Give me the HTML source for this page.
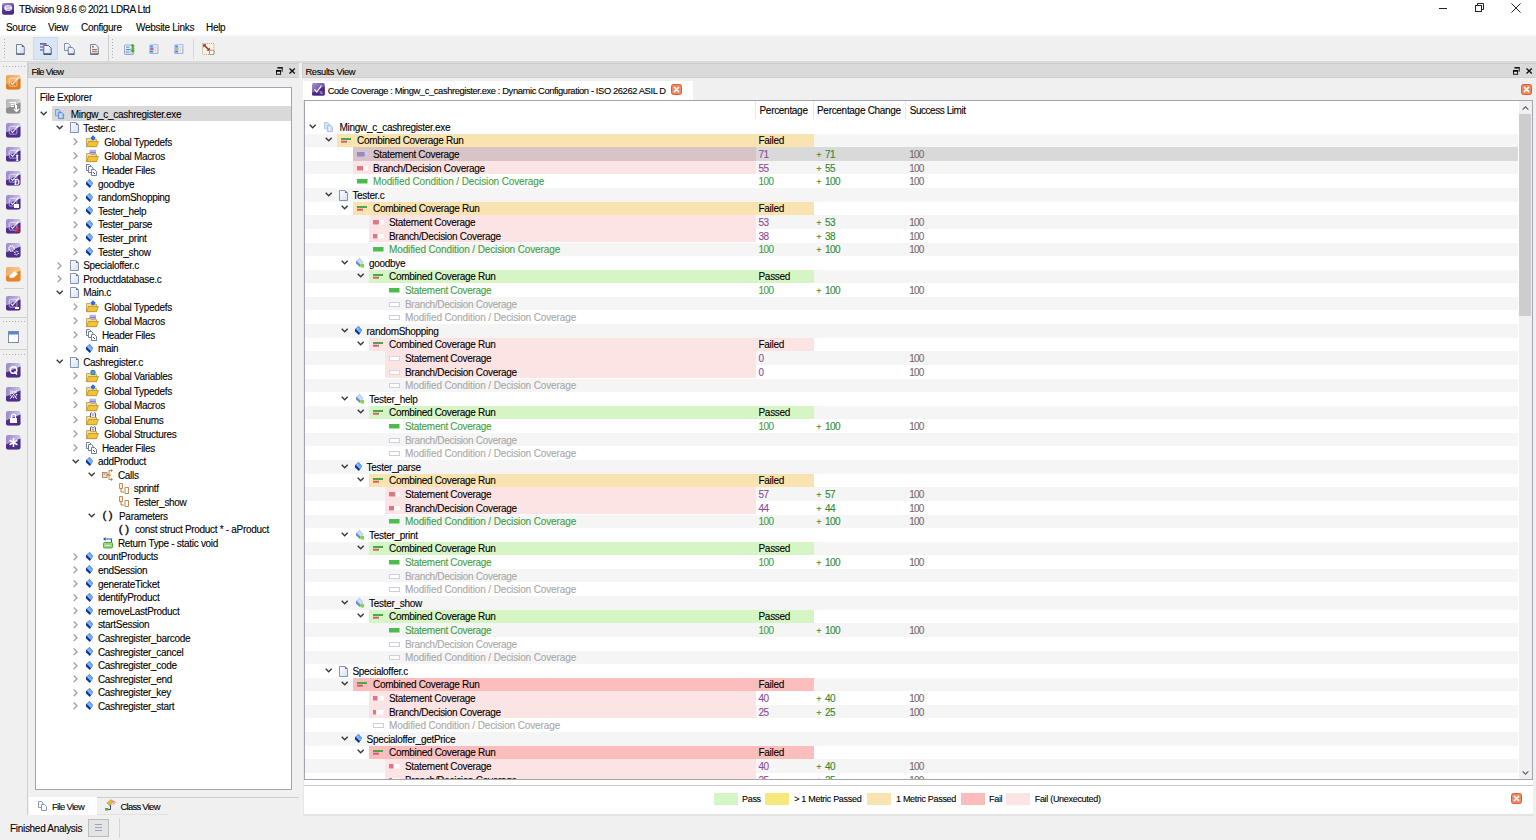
<!DOCTYPE html><html><head><meta charset='utf-8'><title>TBvision</title><style>
*{box-sizing:border-box;margin:0;padding:0}
html,body{width:1536px;height:840px;overflow:hidden;background:#f0f0f0}
body{position:relative;font-family:"Liberation Sans", "DejaVu Sans", sans-serif;font-size:10px;letter-spacing:-0.3px;color:#000;-webkit-text-stroke:0.1px currentColor}
.a{position:absolute}
.t{position:absolute;white-space:nowrap;line-height:13.6px}
svg{position:absolute;overflow:visible}
.r{position:absolute;left:0;width:100%;height:13.6px}
</style></head><body>
<div class='a' style='left:0px;top:0px;width:1536px;height:35px;background:#fff;'></div>
<svg style='left:2px;top:3px' width='12' height='12' viewBox='0 0 12 12'><defs><linearGradient id='ag' x1='0' y1='0' x2='0.3' y2='1'><stop offset='0' stop-color='#a496d0'/><stop offset='0.55' stop-color='#5a3a96'/><stop offset='1' stop-color='#4a2a88'/></linearGradient></defs><rect x='0' y='0' width='12' height='11.8' rx='2' fill='url(#ag)'/><ellipse cx='6.2' cy='5' rx='4.1' ry='2.9' fill='#ebe7f5'/><path d='M4 4.5Q6 3 8.5 4M5 6.5Q7 5.5 9 6.5' stroke='#9a8ac8' stroke-width='0.8' fill='none'/></svg>
<div class='t' style='left:19px;top:3px;letter-spacing:-0.43px'>TBvision 9.8.6 © 2021 LDRA Ltd</div>
<div class='a' style='left:1439px;top:8px;width:8px;height:1px;background:#222;'></div>
<svg style='left:1474px;top:3px' width='10' height='10' viewBox='0 0 10 10'><rect x='1.5' y='2.5' width='6' height='6' fill='none' stroke='#222'/><path d='M3.5 2.5V0.5H9.5V6.5H7.5' fill='none' stroke='#222'/></svg>
<svg style='left:1511px;top:3px' width='10' height='10' viewBox='0 0 10 10'><path d='M0.5 0.5L9.5 9.5M9.5 0.5L0.5 9.5' stroke='#222' stroke-width='1'/></svg>
<div class='t' style='left:6px;top:21px;'>Source</div>
<div class='t' style='left:48px;top:21px;'>View</div>
<div class='t' style='left:81px;top:21px;'>Configure</div>
<div class='t' style='left:136px;top:21px;'>Website Links</div>
<div class='t' style='left:206px;top:21px;'>Help</div>
<div class='a' style='left:0px;top:34.5px;width:1536px;height:2px;background:#f6f6f6;'></div>
<div class='a' style='left:0px;top:36.5px;width:1536px;height:24.6px;background:#f0f0f0;'></div>
<div class='a' style='left:0px;top:61.1px;width:1536px;height:2px;background:#dadada;'></div>
<div class='a' style='left:4px;top:39px;width:1px;height:1px;background:#acacac;'></div>
<div class='a' style='left:4px;top:42px;width:1px;height:1px;background:#acacac;'></div>
<div class='a' style='left:4px;top:45px;width:1px;height:1px;background:#acacac;'></div>
<div class='a' style='left:4px;top:48px;width:1px;height:1px;background:#acacac;'></div>
<div class='a' style='left:4px;top:51px;width:1px;height:1px;background:#acacac;'></div>
<div class='a' style='left:4px;top:54px;width:1px;height:1px;background:#acacac;'></div>
<div class='a' style='left:4px;top:57px;width:1px;height:1px;background:#acacac;'></div>
<div class='a' style='left:33px;top:37px;width:25px;height:23px;background:#d8e6f5;border:1px solid #c5daf0'></div>
<svg style='left:15.9px;top:44.2px' width='9' height='11' viewBox='0 0 9 11'><defs><linearGradient id='pgg' x1='0' y1='0' x2='1' y2='1'><stop offset='0' stop-color='#ffffff'/><stop offset='1' stop-color='#cfdcf2'/></linearGradient></defs><path d='M0.5 0.5H5.8L8.3 3V10.3H0.5Z' fill='url(#pgg)' stroke='#6a7894' stroke-width='0.9'/><path d='M5.8 0.5V3H8.3Z' fill='#4a5a80'/><path d='M0.5 10H8.3' stroke='#3a4668' stroke-width='1'/></svg>
<svg style='left:39.5px;top:43.3px' width='12' height='12' viewBox='0 0 12 12'><defs><linearGradient id='pgg' x1='0' y1='0' x2='1' y2='1'><stop offset='0' stop-color='#ffffff'/><stop offset='1' stop-color='#cfdcf2'/></linearGradient></defs><rect x='0' y='0' width='6.5' height='1.8' fill='#6a64a8'/><rect x='0' y='3.2' width='3.5' height='1.5' fill='#7a74b8'/><rect x='0' y='6.2' width='3.5' height='1.5' fill='#7a74b8'/><path d='M3.8 2.5H8.6L11.2 5.1V11.3H3.8Z' fill='url(#pgg)' stroke='#4a5470' stroke-width='0.9'/><path d='M3.8 11H11.2' stroke='#2a3450' stroke-width='1.1'/></svg>
<svg style='left:64px;top:43.2px' width='11' height='12' viewBox='0 0 11 12'><defs><linearGradient id='pgg' x1='0' y1='0' x2='1' y2='1'><stop offset='0' stop-color='#ffffff'/><stop offset='1' stop-color='#cfdcf2'/></linearGradient></defs><path d='M0.5 0.5H4.3L6.3 2.5V7.5H0.5Z' fill='url(#pgg)' stroke='#7a88a4' stroke-width='0.9'/><path d='M4.3 4.4H8.3L10.3 6.4V11.4H4.3Z' fill='url(#pgg)' stroke='#6a7894' stroke-width='0.9'/><path d='M4.3 11.1H10.3' stroke='#3a4668'/></svg>
<svg style='left:90px;top:44.2px' width='9' height='11' viewBox='0 0 9 11'><defs><linearGradient id='pgg' x1='0' y1='0' x2='1' y2='1'><stop offset='0' stop-color='#ffffff'/><stop offset='1' stop-color='#cfdcf2'/></linearGradient></defs><path d='M0.5 0.5H5.8L8.3 3V10.3H0.5Z' fill='url(#pgg)' stroke='#6a7894' stroke-width='0.9'/><rect x='2' y='1.8' width='1.8' height='1.8' fill='#b86a3a'/><rect x='2' y='5' width='4.8' height='1.2' fill='#b86a3a'/><rect x='2' y='7' width='4.8' height='1.2' fill='#c88050'/><path d='M0.5 10H8.3' stroke='#3a4668'/></svg>
<div class='a' style='left:108px;top:35px;width:1px;height:26px;background:#cdcdcd;'></div>
<div class='a' style='left:112px;top:39px;width:1px;height:1px;background:#acacac;'></div>
<div class='a' style='left:112px;top:42px;width:1px;height:1px;background:#acacac;'></div>
<div class='a' style='left:112px;top:45px;width:1px;height:1px;background:#acacac;'></div>
<div class='a' style='left:112px;top:48px;width:1px;height:1px;background:#acacac;'></div>
<div class='a' style='left:112px;top:51px;width:1px;height:1px;background:#acacac;'></div>
<div class='a' style='left:112px;top:54px;width:1px;height:1px;background:#acacac;'></div>
<div class='a' style='left:112px;top:57px;width:1px;height:1px;background:#acacac;'></div>
<svg style='left:123.9px;top:43.5px' width='11' height='11' viewBox='0 0 11 11'><defs><linearGradient id='tb1' x1='0' y1='0' x2='0' y2='1'><stop offset='0' stop-color='#fafcff'/><stop offset='1' stop-color='#c8d4ea'/></linearGradient></defs><rect x='0.5' y='1' width='9.2' height='9.5' rx='0.8' fill='url(#tb1)' stroke='#8896b8' stroke-width='0.8'/><rect x='2' y='2.6' width='3.5' height='1' fill='#4a84e0'/><rect x='2' y='5' width='4.5' height='1' fill='#4a84e0'/><rect x='2' y='7.4' width='3.5' height='1' fill='#6a9ae8'/><path d='M8.6 -0.3L10.8 2.2H9.4V4.2H7.8V2.2H6.4Z' fill='#3faa30'/><path d='M7.6 3.8H9.6V6.4H11L8.6 8.8L6.2 6.4H7.6Z' fill='#3faa30'/><rect x='6.4' y='3.8' width='4.6' height='1' fill='#7ccc60' opacity='0.7'/></svg>
<svg style='left:149.3px;top:43.9px' width='10' height='10.2' viewBox='0 0 10 10.2'><defs><linearGradient id='tbg149' x1='0' y1='0' x2='1' y2='1'><stop offset='0' stop-color='#c8d6ee'/><stop offset='1' stop-color='#8a9cc0'/></linearGradient></defs><rect x='0' y='0' width='9.4' height='10.1' rx='1.3' fill='url(#tbg149)'/><rect x='1.3' y='1' width='2.6' height='8.2' fill='#8ab8f4'/><rect x='4.4' y='1' width='4' height='8.2' fill='#eef2fa'/><path d='M4.4 3.5H8.4M4.4 6H8.4M6.4 1V9.2' stroke='#c8cfe0' stroke-width='0.6'/><rect x='1.3' y='4.3' width='3.3' height='1.2' fill='#e04040'/><rect x='1.5' y='7' width='2' height='1' fill='#4a7ad0'/><rect x='1.5' y='2' width='2' height='1' fill='#4a7ad0'/></svg>
<svg style='left:174px;top:43.9px' width='10' height='10.2' viewBox='0 0 10 10.2'><defs><linearGradient id='tbg174' x1='0' y1='0' x2='1' y2='1'><stop offset='0' stop-color='#c8d6ee'/><stop offset='1' stop-color='#8a9cc0'/></linearGradient></defs><rect x='0' y='0' width='9.4' height='10.1' rx='1.3' fill='url(#tbg174)'/><rect x='1.3' y='1' width='2.6' height='8.2' fill='#8ab8f4'/><rect x='4.4' y='1' width='4' height='8.2' fill='#eef2fa'/><path d='M4.4 3.5H8.4M4.4 6H8.4M6.4 1V9.2' stroke='#c8cfe0' stroke-width='0.6'/><rect x='1.3' y='4.3' width='3.3' height='1.2' fill='#f0b828'/><rect x='1.5' y='7' width='2' height='1' fill='#4a7ad0'/><rect x='1.5' y='2' width='2' height='1' fill='#4a7ad0'/></svg>
<div class='a' style='left:193px;top:39px;width:1px;height:20px;background:#d8d8d8;'></div>
<svg style='left:201.7px;top:42.9px' width='12.5' height='12' viewBox='0 0 12.5 12'><rect x='0.5' y='0.5' width='11.5' height='11' fill='#f4f2e2' stroke='#b8b088' stroke-dasharray='1.2 0.9'/><path d='M2 2L6.8 6.8' stroke='#a82838' stroke-width='1.5'/><path d='M1.2 1.2H4.4L1.2 4.4Z' fill='#a82838'/><path d='M7.8 7.8H4.6L7.8 4.6Z' fill='#a82838'/><rect x='7.5' y='7.3' width='4.5' height='4.2' rx='1' fill='#fff' stroke='#a8a078' stroke-width='1.1'/></svg>
<div class='a' style='left:0px;top:62px;width:28px;height:753px;background:#f0f0f0;border-right:1px solid #d0d0d0'></div>
<div class='a' style='left:3px;top:66px;width:1px;height:1px;background:#acacac;'></div>
<div class='a' style='left:6px;top:66px;width:1px;height:1px;background:#acacac;'></div>
<div class='a' style='left:9px;top:66px;width:1px;height:1px;background:#acacac;'></div>
<div class='a' style='left:12px;top:66px;width:1px;height:1px;background:#acacac;'></div>
<div class='a' style='left:15px;top:66px;width:1px;height:1px;background:#acacac;'></div>
<div class='a' style='left:18px;top:66px;width:1px;height:1px;background:#acacac;'></div>
<div class='a' style='left:21px;top:66px;width:1px;height:1px;background:#acacac;'></div>
<div class='a' style='left:24px;top:66px;width:1px;height:1px;background:#acacac;'></div>
<svg style='left:6.4px;top:75px' width='15' height='15' viewBox='0 0 15 15'><defs><linearGradient id='tg1' x1='0' y1='0' x2='1' y2='0.3'><stop offset='0' stop-color='#f0a050'/><stop offset='1' stop-color='#f6c890'/></linearGradient></defs><rect x='0' y='0' width='14.5' height='14.5' rx='2' fill='url(#tg1)'/><path d='M0 9.5L14.5 3.5V12.5a2 2 0 0 1-2 2H2a2 2 0 0 1-2-2Z' fill='#dc7f22'/><rect x='3.3' y='3.4' width='7.6' height='7.8' rx='1.5' fill='none' stroke='#fff' stroke-opacity='0.45' stroke-width='1.3'/><path d='M4.8 7.6L6.6 9.4L12.6 2.4' fill='none' stroke='#fff' stroke-opacity='0.85' stroke-width='1.2'/></svg>
<svg style='left:6.4px;top:99px' width='15' height='15' viewBox='0 0 15 15'><defs><linearGradient id='tg2' x1='0' y1='0' x2='1' y2='0.3'><stop offset='0' stop-color='#b4b4b4'/><stop offset='1' stop-color='#d4d4d4'/></linearGradient></defs><rect x='0' y='0' width='14.5' height='14.5' rx='2' fill='url(#tg2)'/><path d='M0 9.5L14.5 3.5V12.5a2 2 0 0 1-2 2H2a2 2 0 0 1-2-2Z' fill='#8e8e8e'/><path d='M3.5 3.5H9.5V9.5' fill='none' stroke='#fff'/><path d='M5 5.5h3M5 7.5h3' stroke='#fff'/><path d='M10.5 6V12M8 10L10.5 12.5L13 10' fill='none' stroke='#fff' stroke-width='1.2'/></svg>
<svg style='left:6.4px;top:123px' width='15' height='15' viewBox='0 0 15 15'><defs><linearGradient id='tg3' x1='0' y1='0' x2='1' y2='0.3'><stop offset='0' stop-color='#9684c6'/><stop offset='1' stop-color='#d0c8e6'/></linearGradient></defs><rect x='0' y='0' width='14.5' height='14.5' rx='2' fill='url(#tg3)'/><path d='M0 9.5L14.5 3.5V12.5a2 2 0 0 1-2 2H2a2 2 0 0 1-2-2Z' fill='#4d2c8c'/><rect x='3.3' y='3.4' width='7.6' height='7.8' rx='1.5' fill='none' stroke='#fff' stroke-opacity='0.45' stroke-width='1.3'/><path d='M4.8 7.6L6.6 9.4L12.6 2.4' fill='none' stroke='#fff' stroke-opacity='0.85' stroke-width='1.2'/></svg>
<svg style='left:6.4px;top:147px' width='15' height='15' viewBox='0 0 15 15'><defs><linearGradient id='tg4' x1='0' y1='0' x2='1' y2='0.3'><stop offset='0' stop-color='#9684c6'/><stop offset='1' stop-color='#d0c8e6'/></linearGradient></defs><rect x='0' y='0' width='14.5' height='14.5' rx='2' fill='url(#tg4)'/><path d='M0 9.5L14.5 3.5V12.5a2 2 0 0 1-2 2H2a2 2 0 0 1-2-2Z' fill='#4d2c8c'/><rect x='3.3' y='3.4' width='7.6' height='7.8' rx='1.5' fill='none' stroke='#fff' stroke-opacity='0.45' stroke-width='1.3'/><path d='M4.8 7.6L6.6 9.4L12.6 2.4' fill='none' stroke='#fff' stroke-opacity='0.85' stroke-width='1.2'/><text x='9.6' y='14.2' font-size='8.5' font-weight='bold' fill='#fff' stroke='none' font-family='Liberation Serif'>I</text></svg>
<svg style='left:6.4px;top:171px' width='15' height='15' viewBox='0 0 15 15'><defs><linearGradient id='tg5' x1='0' y1='0' x2='1' y2='0.3'><stop offset='0' stop-color='#9684c6'/><stop offset='1' stop-color='#d0c8e6'/></linearGradient></defs><rect x='0' y='0' width='14.5' height='14.5' rx='2' fill='url(#tg5)'/><path d='M0 9.5L14.5 3.5V12.5a2 2 0 0 1-2 2H2a2 2 0 0 1-2-2Z' fill='#4d2c8c'/><rect x='3.3' y='3.4' width='7.6' height='7.8' rx='1.5' fill='none' stroke='#fff' stroke-opacity='0.45' stroke-width='1.3'/><path d='M4.8 7.6L6.6 9.4L12.6 2.4' fill='none' stroke='#fff' stroke-opacity='0.85' stroke-width='1.2'/><text x='8' y='14.2' font-size='8' font-weight='bold' fill='#fff' font-family='Liberation Serif'>D</text></svg>
<svg style='left:6.4px;top:195px' width='15' height='15' viewBox='0 0 15 15'><defs><linearGradient id='tg6' x1='0' y1='0' x2='1' y2='0.3'><stop offset='0' stop-color='#9684c6'/><stop offset='1' stop-color='#d0c8e6'/></linearGradient></defs><rect x='0' y='0' width='14.5' height='14.5' rx='2' fill='url(#tg6)'/><path d='M0 9.5L14.5 3.5V12.5a2 2 0 0 1-2 2H2a2 2 0 0 1-2-2Z' fill='#4d2c8c'/><rect x='3.3' y='3.4' width='7.6' height='7.8' rx='1.5' fill='none' stroke='#fff' stroke-opacity='0.45' stroke-width='1.3'/><path d='M4.8 7.6L6.6 9.4L12.6 2.4' fill='none' stroke='#fff' stroke-opacity='0.85' stroke-width='1.2'/><rect x='8' y='9' width='5' height='4' fill='#fff'/></svg>
<svg style='left:6.4px;top:219px' width='15' height='15' viewBox='0 0 15 15'><defs><linearGradient id='tg7' x1='0' y1='0' x2='1' y2='0.3'><stop offset='0' stop-color='#9684c6'/><stop offset='1' stop-color='#d0c8e6'/></linearGradient></defs><rect x='0' y='0' width='14.5' height='14.5' rx='2' fill='url(#tg7)'/><path d='M0 9.5L14.5 3.5V12.5a2 2 0 0 1-2 2H2a2 2 0 0 1-2-2Z' fill='#4d2c8c'/><rect x='3.3' y='3.4' width='7.6' height='7.8' rx='1.5' fill='none' stroke='#fff' stroke-opacity='0.45' stroke-width='1.3'/><path d='M4.8 7.6L6.6 9.4L12.6 2.4' fill='none' stroke='#fff' stroke-opacity='0.85' stroke-width='1.2'/><path d='M9 9L13 13M13 9L9 13' stroke='#e03030' stroke-width='1.3'/></svg>
<svg style='left:6.4px;top:243px' width='15' height='15' viewBox='0 0 15 15'><defs><linearGradient id='tg8' x1='0' y1='0' x2='1' y2='0.3'><stop offset='0' stop-color='#9684c6'/><stop offset='1' stop-color='#d0c8e6'/></linearGradient></defs><rect x='0' y='0' width='14.5' height='14.5' rx='2' fill='url(#tg8)'/><path d='M0 9.5L14.5 3.5V12.5a2 2 0 0 1-2 2H2a2 2 0 0 1-2-2Z' fill='#4d2c8c'/><circle cx='5.5' cy='5.5' r='2.6' fill='none' stroke='#fff' stroke-width='1.6' stroke-dasharray='1.2 0.8'/><circle cx='10.5' cy='10' r='1.8' fill='none' stroke='#fff' stroke-width='1.2' stroke-dasharray='1 0.7'/></svg>
<svg style='left:6.4px;top:267px' width='15' height='15' viewBox='0 0 15 15'><defs><linearGradient id='tg9' x1='0' y1='0' x2='1' y2='0.3'><stop offset='0' stop-color='#f4a860'/><stop offset='1' stop-color='#f8cc98'/></linearGradient></defs><rect x='0' y='0' width='14.5' height='14.5' rx='2' fill='url(#tg9)'/><path d='M0 9.5L14.5 3.5V12.5a2 2 0 0 1-2 2H2a2 2 0 0 1-2-2Z' fill='#e8842c'/><path d='M3 9L9 4L12 7L7 11H4Z' fill='#fff'/></svg>
<div class='a' style='left:4px;top:288px;width:20px;height:1px;background:#d0d0d0;'></div>
<svg style='left:6.4px;top:296px' width='15' height='15' viewBox='0 0 15 15'><defs><linearGradient id='tg10' x1='0' y1='0' x2='1' y2='0.3'><stop offset='0' stop-color='#9684c6'/><stop offset='1' stop-color='#d0c8e6'/></linearGradient></defs><rect x='0' y='0' width='14.5' height='14.5' rx='2' fill='url(#tg10)'/><path d='M0 9.5L14.5 3.5V12.5a2 2 0 0 1-2 2H2a2 2 0 0 1-2-2Z' fill='#4d2c8c'/><rect x='3.3' y='3.4' width='7.6' height='7.8' rx='1.5' fill='none' stroke='#fff' stroke-opacity='0.45' stroke-width='1.3'/><path d='M4.8 7.6L6.6 9.4L12.6 2.4' fill='none' stroke='#fff' stroke-opacity='0.85' stroke-width='1.2'/><rect x='9' y='11' width='4' height='2' fill='#fff'/></svg>
<div class='a' style='left:0px;top:317px;width:27px;height:1px;background:#d0d0d0;'></div>
<div class='a' style='left:3px;top:321px;width:1px;height:1px;background:#acacac;'></div>
<div class='a' style='left:6px;top:321px;width:1px;height:1px;background:#acacac;'></div>
<div class='a' style='left:9px;top:321px;width:1px;height:1px;background:#acacac;'></div>
<div class='a' style='left:12px;top:321px;width:1px;height:1px;background:#acacac;'></div>
<div class='a' style='left:15px;top:321px;width:1px;height:1px;background:#acacac;'></div>
<div class='a' style='left:18px;top:321px;width:1px;height:1px;background:#acacac;'></div>
<div class='a' style='left:21px;top:321px;width:1px;height:1px;background:#acacac;'></div>
<div class='a' style='left:24px;top:321px;width:1px;height:1px;background:#acacac;'></div>
<svg style='left:8px;top:331px' width='11' height='12' viewBox='0 0 11 12'><rect x='0.5' y='0.5' width='10' height='11' fill='#fff' stroke='#7a8aa8'/><rect x='1' y='1' width='9' height='2.5' fill='#4a8ae0'/></svg>
<div class='a' style='left:0px;top:349px;width:27px;height:1px;background:#d0d0d0;'></div>
<div class='a' style='left:3px;top:354px;width:1px;height:1px;background:#acacac;'></div>
<div class='a' style='left:6px;top:354px;width:1px;height:1px;background:#acacac;'></div>
<div class='a' style='left:9px;top:354px;width:1px;height:1px;background:#acacac;'></div>
<div class='a' style='left:12px;top:354px;width:1px;height:1px;background:#acacac;'></div>
<div class='a' style='left:15px;top:354px;width:1px;height:1px;background:#acacac;'></div>
<div class='a' style='left:18px;top:354px;width:1px;height:1px;background:#acacac;'></div>
<div class='a' style='left:21px;top:354px;width:1px;height:1px;background:#acacac;'></div>
<div class='a' style='left:24px;top:354px;width:1px;height:1px;background:#acacac;'></div>
<svg style='left:6.4px;top:363px' width='15' height='15' viewBox='0 0 15 15'><defs><linearGradient id='tg11' x1='0' y1='0' x2='1' y2='0.3'><stop offset='0' stop-color='#9684c6'/><stop offset='1' stop-color='#d0c8e6'/></linearGradient></defs><rect x='0' y='0' width='14.5' height='14.5' rx='2' fill='url(#tg11)'/><path d='M0 9.5L14.5 3.5V12.5a2 2 0 0 1-2 2H2a2 2 0 0 1-2-2Z' fill='#4d2c8c'/><circle cx='7.5' cy='7' r='3.3' fill='none' stroke='#fff' stroke-width='1.6'/><path d='M8.5 8.5L11 11.5' stroke='#fff' stroke-width='1.6'/></svg>
<svg style='left:6.4px;top:387px' width='15' height='15' viewBox='0 0 15 15'><defs><linearGradient id='tg12' x1='0' y1='0' x2='1' y2='0.3'><stop offset='0' stop-color='#9684c6'/><stop offset='1' stop-color='#d0c8e6'/></linearGradient></defs><rect x='0' y='0' width='14.5' height='14.5' rx='2' fill='url(#tg12)'/><path d='M0 9.5L14.5 3.5V12.5a2 2 0 0 1-2 2H2a2 2 0 0 1-2-2Z' fill='#4d2c8c'/><circle cx='7.5' cy='7.5' r='3' fill='none' stroke='#fff' stroke-width='1.5' stroke-dasharray='1 1'/><path d='M4 3L11 12M11 3L4 12' stroke='#fff' stroke-width='0.8'/></svg>
<svg style='left:6.4px;top:411px' width='15' height='15' viewBox='0 0 15 15'><defs><linearGradient id='tg13' x1='0' y1='0' x2='1' y2='0.3'><stop offset='0' stop-color='#9684c6'/><stop offset='1' stop-color='#d0c8e6'/></linearGradient></defs><rect x='0' y='0' width='14.5' height='14.5' rx='2' fill='url(#tg13)'/><path d='M0 9.5L14.5 3.5V12.5a2 2 0 0 1-2 2H2a2 2 0 0 1-2-2Z' fill='#4d2c8c'/><rect x='4' y='7' width='7' height='5' fill='#fff'/><path d='M5.5 7V5a2 2 0 0 1 4 0V7' fill='none' stroke='#fff' stroke-width='1.2'/></svg>
<svg style='left:6.4px;top:435px' width='15' height='15' viewBox='0 0 15 15'><defs><linearGradient id='tg14' x1='0' y1='0' x2='1' y2='0.3'><stop offset='0' stop-color='#9684c6'/><stop offset='1' stop-color='#d0c8e6'/></linearGradient></defs><rect x='0' y='0' width='14.5' height='14.5' rx='2' fill='url(#tg14)'/><path d='M0 9.5L14.5 3.5V12.5a2 2 0 0 1-2 2H2a2 2 0 0 1-2-2Z' fill='#4d2c8c'/><path d='M7.5 3V12M3.6 5.25L11.4 9.75M11.4 5.25L3.6 9.75' stroke='#fff' stroke-width='1.5'/></svg>
<div class='t' style='left:10px;top:822px;'>Finished Analysis</div>
<div class='a' style='left:88px;top:819px;width:21px;height:18px;background:#e4e4e4;border:1px solid #bdbdbd'></div>
<svg style='left:95px;top:824px' width='7' height='7' viewBox='0 0 7 7'><path d='M0 0.5H7M0 3.5H7M0 6.5H7' stroke='#9aa3c0'/></svg>
<div class='a' style='left:119px;top:818px;width:1px;height:20px;background:#d6d6d6;'></div>
<div class='a' style='left:28px;top:63px;width:271px;height:15px;background:#dadada;border-top:1px solid #cdcdcd;border-left:1px solid #cdcdcd;border-bottom:1px solid #cfcfcf'></div>
<div class='t' style='left:31.4px;top:65.2px;font-size:9.4px;letter-spacing:-0.65px;-webkit-text-stroke:0.1px currentColor'>File View</div>
<svg style='left:276px;top:67px' width='8' height='8' viewBox='0 0 8 8'><rect x='1.4' y='0' width='5.3' height='1.6' fill='#151515'/><rect x='5.7' y='0' width='1.1' height='4.7' fill='#303030'/><rect x='0.5' y='3.6' width='4.1' height='3.8' fill='#e6e6e6' stroke='#151515' stroke-width='1'/><rect x='0' y='3.1' width='5.1' height='1.6' fill='#000'/><rect x='0.5' y='6.6' width='4.1' height='0.8' fill='#777'/></svg>
<svg style='left:288.8px;top:67.9px' width='7' height='7' viewBox='0 0 7 7'><path d='M0.5 0.5L5.8 5.6M5.8 0.5L0.5 5.6' stroke='#111' stroke-width='1.35'/></svg>
<div class='a' style='left:302px;top:63px;width:1234px;height:15px;background:#dadada;border-top:1px solid #cdcdcd;border-left:1px solid #cdcdcd;border-bottom:1px solid #cfcfcf'></div>
<div class='t' style='left:305.4px;top:65.2px;font-size:9.4px;letter-spacing:-0.35px;-webkit-text-stroke:0.1px currentColor'>Results View</div>
<svg style='left:1513px;top:67px' width='8' height='8' viewBox='0 0 8 8'><rect x='1.4' y='0' width='5.3' height='1.6' fill='#151515'/><rect x='5.7' y='0' width='1.1' height='4.7' fill='#303030'/><rect x='0.5' y='3.6' width='4.1' height='3.8' fill='#e6e6e6' stroke='#151515' stroke-width='1'/><rect x='0' y='3.1' width='5.1' height='1.6' fill='#000'/><rect x='0.5' y='6.6' width='4.1' height='0.8' fill='#777'/></svg>
<svg style='left:1525.8px;top:67.9px' width='7' height='7' viewBox='0 0 7 7'><path d='M0.5 0.5L5.8 5.6M5.8 0.5L0.5 5.6' stroke='#111' stroke-width='1.35'/></svg>
<div class='a' style='left:35px;top:87px;width:257px;height:702.6px;background:#fff;border:1px solid #a2a5ad'></div>
<div class='t' style='left:39.7px;top:90.9px;'>File Explorer</div>
<div class='a' style='left:52px;top:106.4px;width:239px;height:14.2px;background:#d9d9d9;'></div>
<svg style='left:40px;top:111.39999999999999px' width='8' height='5' viewBox='0 0 8 5'><path d='M0.7 0.7L3.7 3.7L6.7 0.7' fill='none' stroke='#3a3a3a' stroke-width='1.45'/></svg>
<svg style='left:55.4px;top:109.0px' width='9' height='10' viewBox='0 0 9 10'><path d='M0.5 0.5H3.6L5.2 2.1V6.8H0.5Z' fill='#b4d0f4' stroke='#6a98dc' stroke-width='0.9'/><path d='M3.6 3.4H6.8L8.6 5.2V9.6H3.6Z' fill='#a4c4f0' stroke='#5a88d4' stroke-width='0.9'/><path d='M4.6 4.6H6.4V8.6H4.6Z' fill='#d8e8fc'/></svg>
<div class='t' style='left:70.7px;top:108.0px;'>Mingw_c_cashregister.exe</div>
<svg style='left:56px;top:124.99999999999999px' width='8' height='5' viewBox='0 0 8 5'><path d='M0.7 0.7L3.7 3.7L6.7 0.7' fill='none' stroke='#3a3a3a' stroke-width='1.45'/></svg>
<svg style='left:70px;top:122.1px' width='9' height='11' viewBox='0 0 9 11'><defs><linearGradient id='fgr' x1='0' y1='0' x2='1' y2='1'><stop offset='0' stop-color='#ffffff'/><stop offset='1' stop-color='#d4e0f4'/></linearGradient></defs><path d='M0.5 0.5H6L8.5 3V10.5H0.5Z' fill='url(#fgr)' stroke='#7888a8' stroke-width='0.9'/><path d='M6 0.5V3H8.5Z' fill='#5a6a98'/></svg>
<div class='t' style='left:83.2px;top:121.6px;'>Tester.c</div>
<svg style='left:73.4px;top:137.99999999999997px' width='5' height='8' viewBox='0 0 5 8'><path d='M0.7 0.5L4 3.8L0.7 7.1' fill='none' stroke='#a2a2a2' stroke-width='1.35'/></svg>
<svg style='left:86.2px;top:137.39999999999998px' width='13' height='11' viewBox='0 0 13 11'><path d='M0.5 1.5H4L5 2.5H10.5V9.5H0.5Z' fill='#f6dc8a' stroke='#b89a50' stroke-width='0.8'/><path d='M7 -1.7L9.7 1L7 3.7L4.3 1Z' fill='#2a6af0'/><path d='M2.5 4.5H12.5L10.5 9.7H0.5Z' fill='#f5c232' stroke='#a78a3a' stroke-width='0.7'/></svg>
<div class='t' style='left:104.3px;top:136.0px;'>Global Typedefs</div>
<svg style='left:73.4px;top:152.39999999999998px' width='5' height='8' viewBox='0 0 5 8'><path d='M0.7 0.5L4 3.8L0.7 7.1' fill='none' stroke='#a2a2a2' stroke-width='1.35'/></svg>
<svg style='left:86.2px;top:151.79999999999998px' width='13' height='11' viewBox='0 0 13 11'><path d='M0.5 1.5H4L5 2.5H10.5V9.5H0.5Z' fill='#f6dc8a' stroke='#b89a50' stroke-width='0.8'/><rect x='3.5' y='-2.2' width='6.5' height='1' fill='#a0a8c0'/><rect x='3.5' y='-0.6' width='6.5' height='2.2' fill='#8c7ad8'/><path d='M2.5 4.5H12.5L10.5 9.7H0.5Z' fill='#f5c232' stroke='#a78a3a' stroke-width='0.7'/></svg>
<div class='t' style='left:104.3px;top:150.4px;'>Global Macros</div>
<svg style='left:73.4px;top:166.4px' width='5' height='8' viewBox='0 0 5 8'><path d='M0.7 0.5L4 3.8L0.7 7.1' fill='none' stroke='#a2a2a2' stroke-width='1.35'/></svg>
<svg style='left:86.2px;top:164.0px' width='11' height='12' viewBox='0 0 11 12'><path d='M0.5 0.5H3.5L5 2V6.5H0.5Z' fill='#fff' stroke='#6f7f99'/><path d='M2.5 2.5H5.5L7 4V8.5H2.5Z' fill='#fff' stroke='#6f7f99'/><path d='M5.5 5.5H8.5L10.5 7.5V11.5H5.5Z' fill='#fff' stroke='#6f7f99'/><path d='M7 8L9 10' stroke='#3a4a6a'/></svg>
<div class='t' style='left:101.9px;top:164.0px;'>Header Files</div>
<svg style='left:73.4px;top:180.0px' width='5' height='8' viewBox='0 0 5 8'><path d='M0.7 0.5L4 3.8L0.7 7.1' fill='none' stroke='#a2a2a2' stroke-width='1.35'/></svg>
<svg style='left:86px;top:179.0px' width='9' height='10' viewBox='0 0 9 10'><path d='M0 3.3L3.6 0L7 4.2L3.9 9L0 5.5Z' fill='#0636a6'/><path d='M0.7 3.1L3.6 0.3L7 4.2L4.9 6.9Z' fill='#86bcf2'/><path d='M3.6 0.3L7 4.2L5.8 5.6L2.6 1.9Z' fill='#5e9ae6' opacity='0.6'/></svg>
<div class='t' style='left:97.9px;top:177.6px;'>goodbye</div>
<svg style='left:73.4px;top:193.6px' width='5' height='8' viewBox='0 0 5 8'><path d='M0.7 0.5L4 3.8L0.7 7.1' fill='none' stroke='#a2a2a2' stroke-width='1.35'/></svg>
<svg style='left:86px;top:192.6px' width='9' height='10' viewBox='0 0 9 10'><path d='M0 3.3L3.6 0L7 4.2L3.9 9L0 5.5Z' fill='#0636a6'/><path d='M0.7 3.1L3.6 0.3L7 4.2L4.9 6.9Z' fill='#86bcf2'/><path d='M3.6 0.3L7 4.2L5.8 5.6L2.6 1.9Z' fill='#5e9ae6' opacity='0.6'/></svg>
<div class='t' style='left:97.9px;top:191.2px;'>randomShopping</div>
<svg style='left:73.4px;top:207.2px' width='5' height='8' viewBox='0 0 5 8'><path d='M0.7 0.5L4 3.8L0.7 7.1' fill='none' stroke='#a2a2a2' stroke-width='1.35'/></svg>
<svg style='left:86px;top:206.2px' width='9' height='10' viewBox='0 0 9 10'><path d='M0 3.3L3.6 0L7 4.2L3.9 9L0 5.5Z' fill='#0636a6'/><path d='M0.7 3.1L3.6 0.3L7 4.2L4.9 6.9Z' fill='#86bcf2'/><path d='M3.6 0.3L7 4.2L5.8 5.6L2.6 1.9Z' fill='#5e9ae6' opacity='0.6'/></svg>
<div class='t' style='left:97.9px;top:204.79999999999998px;'>Tester_help</div>
<svg style='left:73.4px;top:220.79999999999998px' width='5' height='8' viewBox='0 0 5 8'><path d='M0.7 0.5L4 3.8L0.7 7.1' fill='none' stroke='#a2a2a2' stroke-width='1.35'/></svg>
<svg style='left:86px;top:219.79999999999998px' width='9' height='10' viewBox='0 0 9 10'><path d='M0 3.3L3.6 0L7 4.2L3.9 9L0 5.5Z' fill='#0636a6'/><path d='M0.7 3.1L3.6 0.3L7 4.2L4.9 6.9Z' fill='#86bcf2'/><path d='M3.6 0.3L7 4.2L5.8 5.6L2.6 1.9Z' fill='#5e9ae6' opacity='0.6'/></svg>
<div class='t' style='left:97.9px;top:218.39999999999998px;'>Tester_parse</div>
<svg style='left:73.4px;top:234.39999999999998px' width='5' height='8' viewBox='0 0 5 8'><path d='M0.7 0.5L4 3.8L0.7 7.1' fill='none' stroke='#a2a2a2' stroke-width='1.35'/></svg>
<svg style='left:86px;top:233.39999999999998px' width='9' height='10' viewBox='0 0 9 10'><path d='M0 3.3L3.6 0L7 4.2L3.9 9L0 5.5Z' fill='#0636a6'/><path d='M0.7 3.1L3.6 0.3L7 4.2L4.9 6.9Z' fill='#86bcf2'/><path d='M3.6 0.3L7 4.2L5.8 5.6L2.6 1.9Z' fill='#5e9ae6' opacity='0.6'/></svg>
<div class='t' style='left:97.9px;top:231.99999999999997px;'>Tester_print</div>
<svg style='left:73.4px;top:247.99999999999997px' width='5' height='8' viewBox='0 0 5 8'><path d='M0.7 0.5L4 3.8L0.7 7.1' fill='none' stroke='#a2a2a2' stroke-width='1.35'/></svg>
<svg style='left:86px;top:246.99999999999997px' width='9' height='10' viewBox='0 0 9 10'><path d='M0 3.3L3.6 0L7 4.2L3.9 9L0 5.5Z' fill='#0636a6'/><path d='M0.7 3.1L3.6 0.3L7 4.2L4.9 6.9Z' fill='#86bcf2'/><path d='M3.6 0.3L7 4.2L5.8 5.6L2.6 1.9Z' fill='#5e9ae6' opacity='0.6'/></svg>
<div class='t' style='left:97.9px;top:245.59999999999997px;'>Tester_show</div>
<svg style='left:57.4px;top:261.6px' width='5' height='8' viewBox='0 0 5 8'><path d='M0.7 0.5L4 3.8L0.7 7.1' fill='none' stroke='#a2a2a2' stroke-width='1.35'/></svg>
<svg style='left:70px;top:259.7px' width='9' height='11' viewBox='0 0 9 11'><defs><linearGradient id='fgr' x1='0' y1='0' x2='1' y2='1'><stop offset='0' stop-color='#ffffff'/><stop offset='1' stop-color='#d4e0f4'/></linearGradient></defs><path d='M0.5 0.5H6L8.5 3V10.5H0.5Z' fill='url(#fgr)' stroke='#7888a8' stroke-width='0.9'/><path d='M6 0.5V3H8.5Z' fill='#5a6a98'/></svg>
<div class='t' style='left:83.2px;top:259.2px;'>Specialoffer.c</div>
<svg style='left:57.4px;top:275.20000000000005px' width='5' height='8' viewBox='0 0 5 8'><path d='M0.7 0.5L4 3.8L0.7 7.1' fill='none' stroke='#a2a2a2' stroke-width='1.35'/></svg>
<svg style='left:70px;top:273.3px' width='9' height='11' viewBox='0 0 9 11'><defs><linearGradient id='fgr' x1='0' y1='0' x2='1' y2='1'><stop offset='0' stop-color='#ffffff'/><stop offset='1' stop-color='#d4e0f4'/></linearGradient></defs><path d='M0.5 0.5H6L8.5 3V10.5H0.5Z' fill='url(#fgr)' stroke='#7888a8' stroke-width='0.9'/><path d='M6 0.5V3H8.5Z' fill='#5a6a98'/></svg>
<div class='t' style='left:83.2px;top:272.8px;'>Productdatabase.c</div>
<svg style='left:56px;top:289.80000000000007px' width='8' height='5' viewBox='0 0 8 5'><path d='M0.7 0.7L3.7 3.7L6.7 0.7' fill='none' stroke='#3a3a3a' stroke-width='1.45'/></svg>
<svg style='left:70px;top:286.90000000000003px' width='9' height='11' viewBox='0 0 9 11'><defs><linearGradient id='fgr' x1='0' y1='0' x2='1' y2='1'><stop offset='0' stop-color='#ffffff'/><stop offset='1' stop-color='#d4e0f4'/></linearGradient></defs><path d='M0.5 0.5H6L8.5 3V10.5H0.5Z' fill='url(#fgr)' stroke='#7888a8' stroke-width='0.9'/><path d='M6 0.5V3H8.5Z' fill='#5a6a98'/></svg>
<div class='t' style='left:83.2px;top:286.40000000000003px;'>Main.c</div>
<svg style='left:73.4px;top:302.80000000000007px' width='5' height='8' viewBox='0 0 5 8'><path d='M0.7 0.5L4 3.8L0.7 7.1' fill='none' stroke='#a2a2a2' stroke-width='1.35'/></svg>
<svg style='left:86.2px;top:302.20000000000005px' width='13' height='11' viewBox='0 0 13 11'><path d='M0.5 1.5H4L5 2.5H10.5V9.5H0.5Z' fill='#f6dc8a' stroke='#b89a50' stroke-width='0.8'/><path d='M7 -1.7L9.7 1L7 3.7L4.3 1Z' fill='#2a6af0'/><path d='M2.5 4.5H12.5L10.5 9.7H0.5Z' fill='#f5c232' stroke='#a78a3a' stroke-width='0.7'/></svg>
<div class='t' style='left:104.3px;top:300.80000000000007px;'>Global Typedefs</div>
<svg style='left:73.4px;top:317.20000000000005px' width='5' height='8' viewBox='0 0 5 8'><path d='M0.7 0.5L4 3.8L0.7 7.1' fill='none' stroke='#a2a2a2' stroke-width='1.35'/></svg>
<svg style='left:86.2px;top:316.6px' width='13' height='11' viewBox='0 0 13 11'><path d='M0.5 1.5H4L5 2.5H10.5V9.5H0.5Z' fill='#f6dc8a' stroke='#b89a50' stroke-width='0.8'/><rect x='3.5' y='-2.2' width='6.5' height='1' fill='#a0a8c0'/><rect x='3.5' y='-0.6' width='6.5' height='2.2' fill='#8c7ad8'/><path d='M2.5 4.5H12.5L10.5 9.7H0.5Z' fill='#f5c232' stroke='#a78a3a' stroke-width='0.7'/></svg>
<div class='t' style='left:104.3px;top:315.20000000000005px;'>Global Macros</div>
<svg style='left:73.4px;top:331.20000000000005px' width='5' height='8' viewBox='0 0 5 8'><path d='M0.7 0.5L4 3.8L0.7 7.1' fill='none' stroke='#a2a2a2' stroke-width='1.35'/></svg>
<svg style='left:86.2px;top:328.8px' width='11' height='12' viewBox='0 0 11 12'><path d='M0.5 0.5H3.5L5 2V6.5H0.5Z' fill='#fff' stroke='#6f7f99'/><path d='M2.5 2.5H5.5L7 4V8.5H2.5Z' fill='#fff' stroke='#6f7f99'/><path d='M5.5 5.5H8.5L10.5 7.5V11.5H5.5Z' fill='#fff' stroke='#6f7f99'/><path d='M7 8L9 10' stroke='#3a4a6a'/></svg>
<div class='t' style='left:101.9px;top:328.8px;'>Header Files</div>
<svg style='left:73.4px;top:344.80000000000007px' width='5' height='8' viewBox='0 0 5 8'><path d='M0.7 0.5L4 3.8L0.7 7.1' fill='none' stroke='#a2a2a2' stroke-width='1.35'/></svg>
<svg style='left:86px;top:343.8px' width='9' height='10' viewBox='0 0 9 10'><path d='M0 3.3L3.6 0L7 4.2L3.9 9L0 5.5Z' fill='#0636a6'/><path d='M0.7 3.1L3.6 0.3L7 4.2L4.9 6.9Z' fill='#86bcf2'/><path d='M3.6 0.3L7 4.2L5.8 5.6L2.6 1.9Z' fill='#5e9ae6' opacity='0.6'/></svg>
<div class='t' style='left:97.9px;top:342.40000000000003px;'>main</div>
<svg style='left:56px;top:359.4000000000001px' width='8' height='5' viewBox='0 0 8 5'><path d='M0.7 0.7L3.7 3.7L6.7 0.7' fill='none' stroke='#3a3a3a' stroke-width='1.45'/></svg>
<svg style='left:70px;top:356.50000000000006px' width='9' height='11' viewBox='0 0 9 11'><defs><linearGradient id='fgr' x1='0' y1='0' x2='1' y2='1'><stop offset='0' stop-color='#ffffff'/><stop offset='1' stop-color='#d4e0f4'/></linearGradient></defs><path d='M0.5 0.5H6L8.5 3V10.5H0.5Z' fill='url(#fgr)' stroke='#7888a8' stroke-width='0.9'/><path d='M6 0.5V3H8.5Z' fill='#5a6a98'/></svg>
<div class='t' style='left:83.2px;top:356.00000000000006px;'>Cashregister.c</div>
<svg style='left:73.4px;top:372.4000000000001px' width='5' height='8' viewBox='0 0 5 8'><path d='M0.7 0.5L4 3.8L0.7 7.1' fill='none' stroke='#a2a2a2' stroke-width='1.35'/></svg>
<svg style='left:86.2px;top:371.80000000000007px' width='13' height='11' viewBox='0 0 13 11'><path d='M0.5 1.5H4L5 2.5H10.5V9.5H0.5Z' fill='#f6dc8a' stroke='#b89a50' stroke-width='0.8'/><circle cx='7' cy='0.4' r='2.6' fill='#3a70d8'/><circle cx='7' cy='0.4' r='1.5' fill='#5cc060'/><path d='M2.5 4.5H12.5L10.5 9.7H0.5Z' fill='#f5c232' stroke='#a78a3a' stroke-width='0.7'/></svg>
<div class='t' style='left:104.3px;top:370.4000000000001px;'>Global Variables</div>
<svg style='left:73.4px;top:386.80000000000007px' width='5' height='8' viewBox='0 0 5 8'><path d='M0.7 0.5L4 3.8L0.7 7.1' fill='none' stroke='#a2a2a2' stroke-width='1.35'/></svg>
<svg style='left:86.2px;top:386.20000000000005px' width='13' height='11' viewBox='0 0 13 11'><path d='M0.5 1.5H4L5 2.5H10.5V9.5H0.5Z' fill='#f6dc8a' stroke='#b89a50' stroke-width='0.8'/><path d='M7 -1.7L9.7 1L7 3.7L4.3 1Z' fill='#2a6af0'/><path d='M2.5 4.5H12.5L10.5 9.7H0.5Z' fill='#f5c232' stroke='#a78a3a' stroke-width='0.7'/></svg>
<div class='t' style='left:104.3px;top:384.80000000000007px;'>Global Typedefs</div>
<svg style='left:73.4px;top:401.20000000000005px' width='5' height='8' viewBox='0 0 5 8'><path d='M0.7 0.5L4 3.8L0.7 7.1' fill='none' stroke='#a2a2a2' stroke-width='1.35'/></svg>
<svg style='left:86.2px;top:400.6px' width='13' height='11' viewBox='0 0 13 11'><path d='M0.5 1.5H4L5 2.5H10.5V9.5H0.5Z' fill='#f6dc8a' stroke='#b89a50' stroke-width='0.8'/><rect x='3.5' y='-2.2' width='6.5' height='1' fill='#a0a8c0'/><rect x='3.5' y='-0.6' width='6.5' height='2.2' fill='#8c7ad8'/><path d='M2.5 4.5H12.5L10.5 9.7H0.5Z' fill='#f5c232' stroke='#a78a3a' stroke-width='0.7'/></svg>
<div class='t' style='left:104.3px;top:399.20000000000005px;'>Global Macros</div>
<svg style='left:73.4px;top:415.6px' width='5' height='8' viewBox='0 0 5 8'><path d='M0.7 0.5L4 3.8L0.7 7.1' fill='none' stroke='#a2a2a2' stroke-width='1.35'/></svg>
<svg style='left:86.2px;top:415.0px' width='13' height='11' viewBox='0 0 13 11'><path d='M0.5 1.5H4L5 2.5H10.5V9.5H0.5Z' fill='#f6dc8a' stroke='#b89a50' stroke-width='0.8'/><path d='M5.6 -2.4Q4.6 -2.4 4.6 -1.2V0Q4.6 0.6 4 0.6Q4.6 0.6 4.6 1.2V2.2M8.4 -2.4Q9.4 -2.4 9.4 -1.2V0Q9.4 0.6 10 0.6Q9.4 0.6 9.4 1.2V2.2' fill='none' stroke='#333' stroke-width='0.9'/><rect x='6.4' y='-1.6' width='1.2' height='3' fill='#9a7ad0'/><path d='M2.5 4.5H12.5L10.5 9.7H0.5Z' fill='#f5c232' stroke='#a78a3a' stroke-width='0.7'/></svg>
<div class='t' style='left:104.3px;top:413.6px;'>Global Enums</div>
<svg style='left:73.4px;top:430.0px' width='5' height='8' viewBox='0 0 5 8'><path d='M0.7 0.5L4 3.8L0.7 7.1' fill='none' stroke='#a2a2a2' stroke-width='1.35'/></svg>
<svg style='left:86.2px;top:429.4px' width='13' height='11' viewBox='0 0 13 11'><path d='M0.5 1.5H4L5 2.5H10.5V9.5H0.5Z' fill='#f6dc8a' stroke='#b89a50' stroke-width='0.8'/><path d='M5.6 -2.4Q4.6 -2.4 4.6 -1.2V0Q4.6 0.6 4 0.6Q4.6 0.6 4.6 1.2V2.2M8.4 -2.4Q9.4 -2.4 9.4 -1.2V0Q9.4 0.6 10 0.6Q9.4 0.6 9.4 1.2V2.2' fill='none' stroke='#333' stroke-width='0.9'/><rect x='6.3' y='-2' width='1.4' height='1.6' fill='#3a7ae0'/><rect x='6.3' y='0' width='1.4' height='1.8' fill='#e05030'/><path d='M2.5 4.5H12.5L10.5 9.7H0.5Z' fill='#f5c232' stroke='#a78a3a' stroke-width='0.7'/></svg>
<div class='t' style='left:104.3px;top:428.0px;'>Global Structures</div>
<svg style='left:73.4px;top:444.0px' width='5' height='8' viewBox='0 0 5 8'><path d='M0.7 0.5L4 3.8L0.7 7.1' fill='none' stroke='#a2a2a2' stroke-width='1.35'/></svg>
<svg style='left:86.2px;top:441.59999999999997px' width='11' height='12' viewBox='0 0 11 12'><path d='M0.5 0.5H3.5L5 2V6.5H0.5Z' fill='#fff' stroke='#6f7f99'/><path d='M2.5 2.5H5.5L7 4V8.5H2.5Z' fill='#fff' stroke='#6f7f99'/><path d='M5.5 5.5H8.5L10.5 7.5V11.5H5.5Z' fill='#fff' stroke='#6f7f99'/><path d='M7 8L9 10' stroke='#3a4a6a'/></svg>
<div class='t' style='left:101.9px;top:441.59999999999997px;'>Header Files</div>
<svg style='left:72px;top:458.6px' width='8' height='5' viewBox='0 0 8 5'><path d='M0.7 0.7L3.7 3.7L6.7 0.7' fill='none' stroke='#3a3a3a' stroke-width='1.45'/></svg>
<svg style='left:86px;top:456.59999999999997px' width='9' height='10' viewBox='0 0 9 10'><path d='M0 3.3L3.6 0L7 4.2L3.9 9L0 5.5Z' fill='#0636a6'/><path d='M0.7 3.1L3.6 0.3L7 4.2L4.9 6.9Z' fill='#86bcf2'/><path d='M3.6 0.3L7 4.2L5.8 5.6L2.6 1.9Z' fill='#5e9ae6' opacity='0.6'/></svg>
<div class='t' style='left:97.9px;top:455.2px;'>addProduct</div>
<svg style='left:88px;top:472.20000000000005px' width='8' height='5' viewBox='0 0 8 5'><path d='M0.7 0.7L3.7 3.7L6.7 0.7' fill='none' stroke='#3a3a3a' stroke-width='1.45'/></svg>
<svg style='left:102px;top:469.0px' width='12' height='12' viewBox='0 0 12 12'><rect x='0.5' y='3.5' width='4.5' height='5' fill='#f3dcc8' stroke='#b07850' stroke-width='0.8'/><rect x='1.5' y='4.5' width='2' height='1' fill='#9080c0'/><path d='M5 5.5H7V1.5H9.5M7 5.5V10.5H9.5M5 6H9' stroke='#c07830' fill='none' stroke-width='0.9'/><path d='M9 0L11 1.5L9 3ZM9 9L11 10.5L9 12Z' fill='#c07830'/></svg>
<div class='t' style='left:117.9px;top:468.8px;'>Calls</div>
<svg style='left:119px;top:482.6px' width='10' height='11' viewBox='0 0 10 11'><path d='M0.5 0.5H3.5V5.5H0.5Z' fill='#f8ece0' stroke='#c08040' stroke-width='0.9'/><path d='M2 5.5V9H5' stroke='#c07830' fill='none'/><path d='M6 4.5H9.5V10.5H6Z' fill='#fff' stroke='#c08040' stroke-width='0.9'/></svg>
<div class='t' style='left:133.7px;top:482.40000000000003px;'>sprintf</div>
<svg style='left:119px;top:496.20000000000005px' width='10' height='11' viewBox='0 0 10 11'><path d='M0.5 0.5H3.5V5.5H0.5Z' fill='#f8ece0' stroke='#c08040' stroke-width='0.9'/><path d='M2 5.5V9H5' stroke='#c07830' fill='none'/><path d='M6 4.5H9.5V10.5H6Z' fill='#fff' stroke='#c08040' stroke-width='0.9'/></svg>
<div class='t' style='left:133.7px;top:496.00000000000006px;'>Tester_show</div>
<svg style='left:88px;top:513.0000000000001px' width='8' height='5' viewBox='0 0 8 5'><path d='M0.7 0.7L3.7 3.7L6.7 0.7' fill='none' stroke='#3a3a3a' stroke-width='1.45'/></svg>
<div class='t' style='left:102.4px;top:509.2000000000001px;font-size:11.5px;letter-spacing:2.6px;line-height:13.6px;-webkit-text-stroke:0.35px #000'>()</div>
<div class='t' style='left:119px;top:509.6000000000001px;'>Parameters</div>
<div class='t' style='left:118.8px;top:522.8000000000001px;font-size:11.5px;letter-spacing:2.6px;line-height:13.6px;-webkit-text-stroke:0.35px #000'>()</div>
<div class='t' style='left:134.9px;top:523.2px;'>const struct Product * - aProduct</div>
<svg style='left:103.2px;top:537.0000000000001px' width='11' height='12' viewBox='0 0 11 12'><path d='M1 2H8.5V5' stroke='#2a5ab8' stroke-width='1.2' fill='none'/><path d='M0 2L2.5 0V4Z' fill='#2a5ab8'/><rect x='0.5' y='5.5' width='9' height='5.5' rx='1.2' fill='#9ad880' stroke='#3f9a3a' stroke-width='0.9'/><path d='M2.5 8.5H7' stroke='#e8f8e0'/></svg>
<div class='t' style='left:117.9px;top:536.8000000000001px;'>Return Type - static void</div>
<svg style='left:73.4px;top:552.8000000000001px' width='5' height='8' viewBox='0 0 5 8'><path d='M0.7 0.5L4 3.8L0.7 7.1' fill='none' stroke='#a2a2a2' stroke-width='1.35'/></svg>
<svg style='left:86px;top:551.8000000000001px' width='9' height='10' viewBox='0 0 9 10'><path d='M0 3.3L3.6 0L7 4.2L3.9 9L0 5.5Z' fill='#0636a6'/><path d='M0.7 3.1L3.6 0.3L7 4.2L4.9 6.9Z' fill='#86bcf2'/><path d='M3.6 0.3L7 4.2L5.8 5.6L2.6 1.9Z' fill='#5e9ae6' opacity='0.6'/></svg>
<div class='t' style='left:97.9px;top:550.4000000000001px;'>countProducts</div>
<svg style='left:73.4px;top:566.4000000000001px' width='5' height='8' viewBox='0 0 5 8'><path d='M0.7 0.5L4 3.8L0.7 7.1' fill='none' stroke='#a2a2a2' stroke-width='1.35'/></svg>
<svg style='left:86px;top:565.4000000000001px' width='9' height='10' viewBox='0 0 9 10'><path d='M0 3.3L3.6 0L7 4.2L3.9 9L0 5.5Z' fill='#0636a6'/><path d='M0.7 3.1L3.6 0.3L7 4.2L4.9 6.9Z' fill='#86bcf2'/><path d='M3.6 0.3L7 4.2L5.8 5.6L2.6 1.9Z' fill='#5e9ae6' opacity='0.6'/></svg>
<div class='t' style='left:97.9px;top:564.0000000000001px;'>endSession</div>
<svg style='left:73.4px;top:580.0000000000001px' width='5' height='8' viewBox='0 0 5 8'><path d='M0.7 0.5L4 3.8L0.7 7.1' fill='none' stroke='#a2a2a2' stroke-width='1.35'/></svg>
<svg style='left:86px;top:579.0000000000001px' width='9' height='10' viewBox='0 0 9 10'><path d='M0 3.3L3.6 0L7 4.2L3.9 9L0 5.5Z' fill='#0636a6'/><path d='M0.7 3.1L3.6 0.3L7 4.2L4.9 6.9Z' fill='#86bcf2'/><path d='M3.6 0.3L7 4.2L5.8 5.6L2.6 1.9Z' fill='#5e9ae6' opacity='0.6'/></svg>
<div class='t' style='left:97.9px;top:577.6000000000001px;'>generateTicket</div>
<svg style='left:73.4px;top:593.6000000000001px' width='5' height='8' viewBox='0 0 5 8'><path d='M0.7 0.5L4 3.8L0.7 7.1' fill='none' stroke='#a2a2a2' stroke-width='1.35'/></svg>
<svg style='left:86px;top:592.6000000000001px' width='9' height='10' viewBox='0 0 9 10'><path d='M0 3.3L3.6 0L7 4.2L3.9 9L0 5.5Z' fill='#0636a6'/><path d='M0.7 3.1L3.6 0.3L7 4.2L4.9 6.9Z' fill='#86bcf2'/><path d='M3.6 0.3L7 4.2L5.8 5.6L2.6 1.9Z' fill='#5e9ae6' opacity='0.6'/></svg>
<div class='t' style='left:97.9px;top:591.2000000000002px;'>identifyProduct</div>
<svg style='left:73.4px;top:607.2000000000002px' width='5' height='8' viewBox='0 0 5 8'><path d='M0.7 0.5L4 3.8L0.7 7.1' fill='none' stroke='#a2a2a2' stroke-width='1.35'/></svg>
<svg style='left:86px;top:606.2000000000002px' width='9' height='10' viewBox='0 0 9 10'><path d='M0 3.3L3.6 0L7 4.2L3.9 9L0 5.5Z' fill='#0636a6'/><path d='M0.7 3.1L3.6 0.3L7 4.2L4.9 6.9Z' fill='#86bcf2'/><path d='M3.6 0.3L7 4.2L5.8 5.6L2.6 1.9Z' fill='#5e9ae6' opacity='0.6'/></svg>
<div class='t' style='left:97.9px;top:604.8000000000002px;'>removeLastProduct</div>
<svg style='left:73.4px;top:620.8000000000002px' width='5' height='8' viewBox='0 0 5 8'><path d='M0.7 0.5L4 3.8L0.7 7.1' fill='none' stroke='#a2a2a2' stroke-width='1.35'/></svg>
<svg style='left:86px;top:619.8000000000002px' width='9' height='10' viewBox='0 0 9 10'><path d='M0 3.3L3.6 0L7 4.2L3.9 9L0 5.5Z' fill='#0636a6'/><path d='M0.7 3.1L3.6 0.3L7 4.2L4.9 6.9Z' fill='#86bcf2'/><path d='M3.6 0.3L7 4.2L5.8 5.6L2.6 1.9Z' fill='#5e9ae6' opacity='0.6'/></svg>
<div class='t' style='left:97.9px;top:618.4000000000002px;'>startSession</div>
<svg style='left:73.4px;top:634.4000000000002px' width='5' height='8' viewBox='0 0 5 8'><path d='M0.7 0.5L4 3.8L0.7 7.1' fill='none' stroke='#a2a2a2' stroke-width='1.35'/></svg>
<svg style='left:86px;top:633.4000000000002px' width='9' height='10' viewBox='0 0 9 10'><path d='M0 3.3L3.6 0L7 4.2L3.9 9L0 5.5Z' fill='#0636a6'/><path d='M0.7 3.1L3.6 0.3L7 4.2L4.9 6.9Z' fill='#86bcf2'/><path d='M3.6 0.3L7 4.2L5.8 5.6L2.6 1.9Z' fill='#5e9ae6' opacity='0.6'/></svg>
<div class='t' style='left:97.9px;top:632.0000000000002px;'>Cashregister_barcode</div>
<svg style='left:73.4px;top:648.0000000000002px' width='5' height='8' viewBox='0 0 5 8'><path d='M0.7 0.5L4 3.8L0.7 7.1' fill='none' stroke='#a2a2a2' stroke-width='1.35'/></svg>
<svg style='left:86px;top:647.0000000000002px' width='9' height='10' viewBox='0 0 9 10'><path d='M0 3.3L3.6 0L7 4.2L3.9 9L0 5.5Z' fill='#0636a6'/><path d='M0.7 3.1L3.6 0.3L7 4.2L4.9 6.9Z' fill='#86bcf2'/><path d='M3.6 0.3L7 4.2L5.8 5.6L2.6 1.9Z' fill='#5e9ae6' opacity='0.6'/></svg>
<div class='t' style='left:97.9px;top:645.6000000000003px;'>Cashregister_cancel</div>
<svg style='left:73.4px;top:661.6000000000003px' width='5' height='8' viewBox='0 0 5 8'><path d='M0.7 0.5L4 3.8L0.7 7.1' fill='none' stroke='#a2a2a2' stroke-width='1.35'/></svg>
<svg style='left:86px;top:660.6000000000003px' width='9' height='10' viewBox='0 0 9 10'><path d='M0 3.3L3.6 0L7 4.2L3.9 9L0 5.5Z' fill='#0636a6'/><path d='M0.7 3.1L3.6 0.3L7 4.2L4.9 6.9Z' fill='#86bcf2'/><path d='M3.6 0.3L7 4.2L5.8 5.6L2.6 1.9Z' fill='#5e9ae6' opacity='0.6'/></svg>
<div class='t' style='left:97.9px;top:659.2000000000003px;'>Cashregister_code</div>
<svg style='left:73.4px;top:675.2000000000003px' width='5' height='8' viewBox='0 0 5 8'><path d='M0.7 0.5L4 3.8L0.7 7.1' fill='none' stroke='#a2a2a2' stroke-width='1.35'/></svg>
<svg style='left:86px;top:674.2000000000003px' width='9' height='10' viewBox='0 0 9 10'><path d='M0 3.3L3.6 0L7 4.2L3.9 9L0 5.5Z' fill='#0636a6'/><path d='M0.7 3.1L3.6 0.3L7 4.2L4.9 6.9Z' fill='#86bcf2'/><path d='M3.6 0.3L7 4.2L5.8 5.6L2.6 1.9Z' fill='#5e9ae6' opacity='0.6'/></svg>
<div class='t' style='left:97.9px;top:672.8000000000003px;'>Cashregister_end</div>
<svg style='left:73.4px;top:688.8000000000003px' width='5' height='8' viewBox='0 0 5 8'><path d='M0.7 0.5L4 3.8L0.7 7.1' fill='none' stroke='#a2a2a2' stroke-width='1.35'/></svg>
<svg style='left:86px;top:687.8000000000003px' width='9' height='10' viewBox='0 0 9 10'><path d='M0 3.3L3.6 0L7 4.2L3.9 9L0 5.5Z' fill='#0636a6'/><path d='M0.7 3.1L3.6 0.3L7 4.2L4.9 6.9Z' fill='#86bcf2'/><path d='M3.6 0.3L7 4.2L5.8 5.6L2.6 1.9Z' fill='#5e9ae6' opacity='0.6'/></svg>
<div class='t' style='left:97.9px;top:686.4000000000003px;'>Cashregister_key</div>
<svg style='left:73.4px;top:702.4000000000003px' width='5' height='8' viewBox='0 0 5 8'><path d='M0.7 0.5L4 3.8L0.7 7.1' fill='none' stroke='#a2a2a2' stroke-width='1.35'/></svg>
<svg style='left:86px;top:701.4000000000003px' width='9' height='10' viewBox='0 0 9 10'><path d='M0 3.3L3.6 0L7 4.2L3.9 9L0 5.5Z' fill='#0636a6'/><path d='M0.7 3.1L3.6 0.3L7 4.2L4.9 6.9Z' fill='#86bcf2'/><path d='M3.6 0.3L7 4.2L5.8 5.6L2.6 1.9Z' fill='#5e9ae6' opacity='0.6'/></svg>
<div class='t' style='left:97.9px;top:700.0000000000003px;'>Cashregister_start</div>
<div class='a' style='left:97px;top:797px;width:202px;height:1px;background:#cfcfcf;'></div>
<div class='a' style='left:29px;top:797px;width:68px;height:18px;background:#fff;'></div>
<svg style='left:38px;top:801px' width='9' height='10' viewBox='0 0 9 10'><path d='M0.5 0.5H3.5L5 2V6.5H0.5Z' fill='#fff' stroke='#8a9ab8'/><path d='M3.5 3.5H6.5L8.5 5.5V9.5H3.5Z' fill='#fff' stroke='#8a9ab8'/></svg>
<div class='t' style='left:52px;top:800px;font-size:9.4px;letter-spacing:-0.65px;-webkit-text-stroke:0.1px currentColor'>File View</div>
<div class='a' style='left:97px;top:814px;width:72px;height:1px;background:#e2e2e2;'></div>
<svg style='left:105px;top:799px' width='12' height='12' viewBox='0 0 12 12'><path d='M2 4L6 0.5L8.5 3L4.5 6.5Z' fill='#e8b830' stroke='#b88a20' stroke-width='0.6'/><path d='M5.5 6V10.5M2 10.5H5.5' stroke='#3a4a8a'/><rect x='0' y='9' width='3.5' height='2.5' fill='#6aa040'/><path d='M8 1.5L10 3.5L8 5.5' stroke='#d050d0' fill='none'/></svg>
<div class='t' style='left:120.5px;top:800px;font-size:9.4px;letter-spacing:-0.7px;-webkit-text-stroke:0.1px currentColor'>Class View</div>
<div class='a' style='left:303px;top:80.7px;width:390px;height:19.5px;background:#fff;'></div>
<svg style='left:312px;top:82.6px' width='13' height='13' viewBox='0 0 13 13'><defs><linearGradient id='pg' x1='0' y1='0' x2='1' y2='1'><stop offset='0' stop-color='#a890d0'/><stop offset='1' stop-color='#4a2888'/></linearGradient></defs><rect x='0' y='0' width='12.7' height='12.5' rx='1.5' fill='url(#pg)'/><path d='M0 10L12.7 3.5V11a1.5 1.5 0 0 1-1.5 1.5H1.5A1.5 1.5 0 0 1 0 11Z' fill='#4a2888'/><path d='M2.5 6.5L4.8 9L9.5 2.5' fill='none' stroke='#fff' stroke-width='1.2'/><text x='7.5' y='11.3' font-size='3.5' fill='#fff' font-family='Liberation Sans'>%</text></svg>
<div class='t' style='left:327.7px;top:83.8px;font-size:9.4px;letter-spacing:-0.4px'>Code Coverage : Mingw_c_cashregister.exe : Dynamic Configuration - ISO 26262 ASIL D</div>
<svg style='left:671.2px;top:84.2px' width='11' height='11' viewBox='0 0 11 11'><rect x='0.5' y='0.5' width='10' height='10' rx='2' fill='#ef8a5f' stroke='#e0583a'/><path d='M3 3L8 8M8 3L3 8' stroke='#fff' stroke-width='1.6'/></svg>
<svg style='left:1521px;top:84.2px' width='11' height='11' viewBox='0 0 11 11'><rect x='0.5' y='0.5' width='10' height='10' rx='2' fill='#ef8a5f' stroke='#e0583a'/><path d='M3 3L8 8M8 3L3 8' stroke='#fff' stroke-width='1.6'/></svg>
<div class='a' style='left:303px;top:100px;width:1233px;height:715px;background:#fff;'></div>
<div class='a' style='left:303px;top:100px;width:1px;height:715px;background:#e6e6e6;'></div>
<div class='a' style='left:303px;top:814px;width:1231px;height:1.8px;background:#e4e4e4;'></div>
<div class='a' style='left:1532.6px;top:100px;width:3.4px;height:715px;background:#f0f0f0;'></div>
<div class='a' style='left:304px;top:100px;width:1228.6px;height:680px;background:#fff;border:1px solid #a2a5ad'></div>
<div class='a' style='left:755px;top:101px;width:1px;height:18px;background:#e8e8e8;'></div>
<div class='a' style='left:813px;top:101px;width:1px;height:18px;background:#e8e8e8;'></div>
<div class='a' style='left:905px;top:101px;width:1px;height:18px;background:#e8e8e8;'></div>
<div class='t' style='left:759.5px;top:104.2px;'>Percentage</div>
<div class='t' style='left:817px;top:104.2px;'>Percentage Change</div>
<div class='t' style='left:909.7px;top:104.2px;letter-spacing:-0.45px'>Success Limit</div>
<div class='a' style='left:305px;top:101px;width:1213px;height:678px;overflow:hidden'>
<svg style='left:4px;top:22.7px' width='8' height='5' viewBox='0 0 8 5'><path d='M0.7 0.7L3.7 3.7L6.7 0.7' fill='none' stroke='#3a3a3a' stroke-width='1.45'/></svg>
<svg style='left:19.4px;top:21.4px' width='9' height='10' viewBox='0 0 9 10'><g opacity='0.55'><path d='M0.5 0.5H3.6L5.2 2.1V6.8H0.5Z' fill='#b4d0f4' stroke='#6a98dc' stroke-width='0.9'/><path d='M3.6 3.4H6.8L8.6 5.2V9.6H3.6Z' fill='#a4c4f0' stroke='#5a88d4' stroke-width='0.9'/><path d='M4.6 4.6H6.4V8.6H4.6Z' fill='#d8e8fc'/></g></svg>
<div class='t' style='left:34.6px;top:19.8px;'>Mingw_c_cashregister.exe</div>
<div class='a' style='left:0px;top:32.7px;width:1213px;height:13.6px;background:#f5f5f5;'></div>
<svg style='left:20px;top:36.3px' width='8' height='5' viewBox='0 0 8 5'><path d='M0.7 0.7L3.7 3.7L6.7 0.7' fill='none' stroke='#3a3a3a' stroke-width='1.45'/></svg>
<div class='a' style='left:32px;top:32.7px;width:477px;height:13.6px;background:#f9e3b0;'></div>
<svg style='left:36px;top:36.9px' width='10' height='4' viewBox='0 0 10 4'><rect x='0' y='0' width='10' height='2' fill='#4aa84a'/><rect x='0' y='2.7' width='6' height='2' fill='#d06070'/></svg>
<div class='t' style='left:52px;top:33.4px;'>Combined Coverage Run</div>
<div class='t' style='left:453.5px;top:33.4px;'>Failed</div>
<div class='a' style='left:48px;top:46.3px;width:1165px;height:13.6px;background:#d9d9d9;'></div>
<div class='a' style='left:48px;top:46.3px;width:403px;height:13.6px;background:#d8c4c6;'></div>
<svg style='left:52px;top:50.9px' width='10.5' height='4.5' viewBox='0 0 10.5 4.5'><rect width='10.5' height='4.5' fill='#b8d4f0'/><rect width='7.7' height='4.5' fill='#9a88c0'/></svg>
<div class='t' style='left:68px;top:47.0px;color:#000'>Statement Coverage</div>
<div class='t' style='left:453.6px;top:47.0px;color:#8a4a9a;letter-spacing:-0.55px'>71</div>
<div class='t' style='left:511.2px;top:47.0px;color:#2e8a2e;letter-spacing:-0.55px'><span style='font-size:9px;letter-spacing:0;margin-right:1.4px'>+</span>&nbsp;71</div>
<div class='t' style='left:604.3px;top:47.0px;color:#786868;letter-spacing:-0.8px'>100</div>
<div class='a' style='left:0px;top:59.9px;width:1213px;height:13.6px;background:#f5f5f5;'></div>
<div class='a' style='left:48px;top:59.9px;width:403px;height:13.6px;background:#fde4e4;'></div>
<svg style='left:52px;top:64.5px' width='10.5' height='4.5' viewBox='0 0 10.5 4.5'><rect width='10.5' height='4.5' fill='#fff'/><rect width='6.1' height='4.5' fill='#e07585'/></svg>
<div class='t' style='left:68px;top:60.6px;color:#000'>Branch/Decision Coverage</div>
<div class='t' style='left:453.6px;top:60.6px;color:#8a4a9a;letter-spacing:-0.55px'>55</div>
<div class='t' style='left:511.2px;top:60.6px;color:#2e8a2e;letter-spacing:-0.55px'><span style='font-size:9px;letter-spacing:0;margin-right:1.4px'>+</span>&nbsp;55</div>
<div class='t' style='left:604.3px;top:60.6px;color:#786868;letter-spacing:-0.8px'>100</div>
<svg style='left:52px;top:78.1px' width='10.5' height='4.5' viewBox='0 0 10.5 4.5'><rect width='10.5' height='4.5' fill='#4cbc4c'/></svg>
<div class='t' style='left:68px;top:74.2px;color:#3f9f3f;letter-spacing:-0.12px'>Modified Condition / Decision Coverage</div>
<div class='t' style='left:453.6px;top:74.2px;color:#3f9f3f;letter-spacing:-0.55px'>100</div>
<div class='t' style='left:511.2px;top:74.2px;color:#2e8a2e;letter-spacing:-0.55px'><span style='font-size:9px;letter-spacing:0;margin-right:1.4px'>+</span>&nbsp;100</div>
<div class='t' style='left:604.3px;top:74.2px;color:#786868;letter-spacing:-0.8px'>100</div>
<div class='a' style='left:0px;top:87.1px;width:1213px;height:13.6px;background:#f5f5f5;'></div>
<svg style='left:20px;top:90.7px' width='8' height='5' viewBox='0 0 8 5'><path d='M0.7 0.7L3.7 3.7L6.7 0.7' fill='none' stroke='#3a3a3a' stroke-width='1.45'/></svg>
<svg style='left:34px;top:88.9px' width='9' height='11' viewBox='0 0 9 11'><defs><linearGradient id='fgr' x1='0' y1='0' x2='1' y2='1'><stop offset='0' stop-color='#ffffff'/><stop offset='1' stop-color='#d4e0f4'/></linearGradient></defs><path d='M0.5 0.5H6L8.5 3V10.5H0.5Z' fill='url(#fgr)' stroke='#7888a8' stroke-width='0.9'/><path d='M6 0.5V3H8.5Z' fill='#5a6a98'/></svg>
<div class='t' style='left:47.4px;top:87.8px;'>Tester.c</div>
<svg style='left:36px;top:104.3px' width='8' height='5' viewBox='0 0 8 5'><path d='M0.7 0.7L3.7 3.7L6.7 0.7' fill='none' stroke='#3a3a3a' stroke-width='1.45'/></svg>
<div class='a' style='left:48px;top:100.7px;width:461px;height:13.6px;background:#f9e3b0;'></div>
<svg style='left:52px;top:104.9px' width='10' height='4' viewBox='0 0 10 4'><rect x='0' y='0' width='10' height='2' fill='#4aa84a'/><rect x='0' y='2.7' width='6' height='2' fill='#d06070'/></svg>
<div class='t' style='left:68px;top:101.4px;'>Combined Coverage Run</div>
<div class='t' style='left:453.5px;top:101.4px;'>Failed</div>
<div class='a' style='left:0px;top:114.3px;width:1213px;height:13.6px;background:#f5f5f5;'></div>
<div class='a' style='left:64px;top:114.3px;width:387px;height:13.6px;background:#fde4e4;'></div>
<svg style='left:68px;top:118.9px' width='10.5' height='4.5' viewBox='0 0 10.5 4.5'><rect width='10.5' height='4.5' fill='#fff'/><rect width='5.9' height='4.5' fill='#e07585'/></svg>
<div class='t' style='left:84px;top:115.0px;color:#000'>Statement Coverage</div>
<div class='t' style='left:453.6px;top:115.0px;color:#8a4a9a;letter-spacing:-0.55px'>53</div>
<div class='t' style='left:511.2px;top:115.0px;color:#2e8a2e;letter-spacing:-0.55px'><span style='font-size:9px;letter-spacing:0;margin-right:1.4px'>+</span>&nbsp;53</div>
<div class='t' style='left:604.3px;top:115.0px;color:#786868;letter-spacing:-0.8px'>100</div>
<div class='a' style='left:64px;top:127.9px;width:387px;height:13.6px;background:#fde4e4;'></div>
<svg style='left:68px;top:132.5px' width='10.5' height='4.5' viewBox='0 0 10.5 4.5'><rect width='10.5' height='4.5' fill='#fff'/><rect width='4.4' height='4.5' fill='#e07585'/></svg>
<div class='t' style='left:84px;top:128.6px;color:#000'>Branch/Decision Coverage</div>
<div class='t' style='left:453.6px;top:128.6px;color:#8a4a9a;letter-spacing:-0.55px'>38</div>
<div class='t' style='left:511.2px;top:128.6px;color:#2e8a2e;letter-spacing:-0.55px'><span style='font-size:9px;letter-spacing:0;margin-right:1.4px'>+</span>&nbsp;38</div>
<div class='t' style='left:604.3px;top:128.6px;color:#786868;letter-spacing:-0.8px'>100</div>
<div class='a' style='left:0px;top:141.5px;width:1213px;height:13.6px;background:#f5f5f5;'></div>
<svg style='left:68px;top:146.1px' width='10.5' height='4.5' viewBox='0 0 10.5 4.5'><rect width='10.5' height='4.5' fill='#4cbc4c'/></svg>
<div class='t' style='left:84px;top:142.2px;color:#3f9f3f;letter-spacing:-0.12px'>Modified Condition / Decision Coverage</div>
<div class='t' style='left:453.6px;top:142.2px;color:#3f9f3f;letter-spacing:-0.55px'>100</div>
<div class='t' style='left:511.2px;top:142.2px;color:#2e8a2e;letter-spacing:-0.55px'><span style='font-size:9px;letter-spacing:0;margin-right:1.4px'>+</span>&nbsp;100</div>
<div class='t' style='left:604.3px;top:142.2px;color:#786868;letter-spacing:-0.8px'>100</div>
<svg style='left:36px;top:158.7px' width='8' height='5' viewBox='0 0 8 5'><path d='M0.7 0.7L3.7 3.7L6.7 0.7' fill='none' stroke='#3a3a3a' stroke-width='1.45'/></svg>
<svg style='left:50.8px;top:157.0px' width='9' height='10' viewBox='0 0 9 10'><path d='M0 3.3L3.6 0L7 4.2L3.9 9L0 5.5Z' fill='#6a8cd4'/><path d='M0.7 3.1L3.6 0.3L7 4.2L4.9 6.9Z' fill='#c6def8'/><circle cx='6.3' cy='7.8' r='2.05' fill='#78e02a'/></svg>
<div class='t' style='left:64px;top:155.8px;'>goodbye</div>
<div class='a' style='left:0px;top:168.7px;width:1213px;height:13.6px;background:#f5f5f5;'></div>
<svg style='left:52px;top:172.3px' width='8' height='5' viewBox='0 0 8 5'><path d='M0.7 0.7L3.7 3.7L6.7 0.7' fill='none' stroke='#3a3a3a' stroke-width='1.45'/></svg>
<div class='a' style='left:64px;top:168.7px;width:445px;height:13.6px;background:#d5f5c5;'></div>
<svg style='left:68px;top:172.9px' width='10' height='4' viewBox='0 0 10 4'><rect x='0' y='0' width='10' height='2' fill='#4aa84a'/><rect x='0' y='2.7' width='6' height='2' fill='#d06070'/></svg>
<div class='t' style='left:84px;top:169.4px;'>Combined Coverage Run</div>
<div class='t' style='left:453.5px;top:169.4px;'>Passed</div>
<svg style='left:84px;top:186.9px' width='10.5' height='4.5' viewBox='0 0 10.5 4.5'><rect width='10.5' height='4.5' fill='#4cbc4c'/></svg>
<div class='t' style='left:100px;top:183.0px;color:#3f9f3f'>Statement Coverage</div>
<div class='t' style='left:453.6px;top:183.0px;color:#3f9f3f;letter-spacing:-0.55px'>100</div>
<div class='t' style='left:511.2px;top:183.0px;color:#2e8a2e;letter-spacing:-0.55px'><span style='font-size:9px;letter-spacing:0;margin-right:1.4px'>+</span>&nbsp;100</div>
<div class='t' style='left:604.3px;top:183.0px;color:#786868;letter-spacing:-0.8px'>100</div>
<div class='a' style='left:0px;top:195.9px;width:1213px;height:13.6px;background:#f5f5f5;'></div>
<svg style='left:84px;top:200.5px' width='11' height='5' viewBox='0 0 11 5'><rect x='0.5' y='0.5' width='10' height='4' fill='#fff' stroke='#d2cee2'/></svg>
<div class='t' style='left:100px;top:196.6px;color:#a8a8a8'>Branch/Decision Coverage</div>
<svg style='left:84px;top:214.1px' width='11' height='5' viewBox='0 0 11 5'><rect x='0.5' y='0.5' width='10' height='4' fill='#fff' stroke='#d2cee2'/></svg>
<div class='t' style='left:100px;top:210.2px;color:#a8a8a8;letter-spacing:-0.12px'>Modified Condition / Decision Coverage</div>
<div class='a' style='left:0px;top:223.1px;width:1213px;height:13.6px;background:#f5f5f5;'></div>
<svg style='left:36px;top:226.7px' width='8' height='5' viewBox='0 0 8 5'><path d='M0.7 0.7L3.7 3.7L6.7 0.7' fill='none' stroke='#3a3a3a' stroke-width='1.45'/></svg>
<svg style='left:50.2px;top:225.4px' width='9' height='10' viewBox='0 0 9 10'><path d='M0 3.3L3.6 0L7 4.2L3.9 9L0 5.5Z' fill='#0636a6'/><path d='M0.7 3.1L3.6 0.3L7 4.2L4.9 6.9Z' fill='#86bcf2'/><path d='M3.6 0.3L7 4.2L5.8 5.6L2.6 1.9Z' fill='#5e9ae6' opacity='0.6'/></svg>
<div class='t' style='left:61.6px;top:223.8px;'>randomShopping</div>
<svg style='left:52px;top:240.3px' width='8' height='5' viewBox='0 0 8 5'><path d='M0.7 0.7L3.7 3.7L6.7 0.7' fill='none' stroke='#3a3a3a' stroke-width='1.45'/></svg>
<div class='a' style='left:64px;top:236.7px;width:445px;height:13.6px;background:#fde4e4;'></div>
<svg style='left:68px;top:240.9px' width='10' height='4' viewBox='0 0 10 4'><rect x='0' y='0' width='10' height='2' fill='#4aa84a'/><rect x='0' y='2.7' width='6' height='2' fill='#d06070'/></svg>
<div class='t' style='left:84px;top:237.4px;'>Combined Coverage Run</div>
<div class='t' style='left:453.5px;top:237.4px;'>Failed</div>
<div class='a' style='left:0px;top:250.3px;width:1213px;height:13.6px;background:#f5f5f5;'></div>
<div class='a' style='left:80px;top:250.3px;width:371px;height:13.6px;background:#fde4e4;'></div>
<svg style='left:84px;top:254.9px' width='11' height='5' viewBox='0 0 11 5'><rect x='0.5' y='0.5' width='10' height='4' fill='#fff' stroke='#dcd6e0'/></svg>
<div class='t' style='left:100px;top:251.0px;color:#000'>Statement Coverage</div>
<div class='t' style='left:453.6px;top:251.0px;color:#8a4a9a;letter-spacing:-0.55px'>0</div>
<div class='t' style='left:604.3px;top:251.0px;color:#786868;letter-spacing:-0.8px'>100</div>
<div class='a' style='left:80px;top:263.9px;width:371px;height:13.6px;background:#fde4e4;'></div>
<svg style='left:84px;top:268.5px' width='11' height='5' viewBox='0 0 11 5'><rect x='0.5' y='0.5' width='10' height='4' fill='#fff' stroke='#dcd6e0'/></svg>
<div class='t' style='left:100px;top:264.6px;color:#000'>Branch/Decision Coverage</div>
<div class='t' style='left:453.6px;top:264.6px;color:#8a4a9a;letter-spacing:-0.55px'>0</div>
<div class='t' style='left:604.3px;top:264.6px;color:#786868;letter-spacing:-0.8px'>100</div>
<div class='a' style='left:0px;top:277.5px;width:1213px;height:13.6px;background:#f5f5f5;'></div>
<svg style='left:84px;top:282.1px' width='11' height='5' viewBox='0 0 11 5'><rect x='0.5' y='0.5' width='10' height='4' fill='#fff' stroke='#d2cee2'/></svg>
<div class='t' style='left:100px;top:278.2px;color:#a8a8a8;letter-spacing:-0.12px'>Modified Condition / Decision Coverage</div>
<svg style='left:36px;top:294.7px' width='8' height='5' viewBox='0 0 8 5'><path d='M0.7 0.7L3.7 3.7L6.7 0.7' fill='none' stroke='#3a3a3a' stroke-width='1.45'/></svg>
<svg style='left:50.8px;top:293.0px' width='9' height='10' viewBox='0 0 9 10'><path d='M0 3.3L3.6 0L7 4.2L3.9 9L0 5.5Z' fill='#6a8cd4'/><path d='M0.7 3.1L3.6 0.3L7 4.2L4.9 6.9Z' fill='#c6def8'/><circle cx='6.3' cy='7.8' r='2.05' fill='#78e02a'/></svg>
<div class='t' style='left:64px;top:291.8px;'>Tester_help</div>
<div class='a' style='left:0px;top:304.7px;width:1213px;height:13.6px;background:#f5f5f5;'></div>
<svg style='left:52px;top:308.3px' width='8' height='5' viewBox='0 0 8 5'><path d='M0.7 0.7L3.7 3.7L6.7 0.7' fill='none' stroke='#3a3a3a' stroke-width='1.45'/></svg>
<div class='a' style='left:64px;top:304.7px;width:445px;height:13.6px;background:#d5f5c5;'></div>
<svg style='left:68px;top:308.9px' width='10' height='4' viewBox='0 0 10 4'><rect x='0' y='0' width='10' height='2' fill='#4aa84a'/><rect x='0' y='2.7' width='6' height='2' fill='#d06070'/></svg>
<div class='t' style='left:84px;top:305.4px;'>Combined Coverage Run</div>
<div class='t' style='left:453.5px;top:305.4px;'>Passed</div>
<svg style='left:84px;top:322.9px' width='10.5' height='4.5' viewBox='0 0 10.5 4.5'><rect width='10.5' height='4.5' fill='#4cbc4c'/></svg>
<div class='t' style='left:100px;top:319.0px;color:#3f9f3f'>Statement Coverage</div>
<div class='t' style='left:453.6px;top:319.0px;color:#3f9f3f;letter-spacing:-0.55px'>100</div>
<div class='t' style='left:511.2px;top:319.0px;color:#2e8a2e;letter-spacing:-0.55px'><span style='font-size:9px;letter-spacing:0;margin-right:1.4px'>+</span>&nbsp;100</div>
<div class='t' style='left:604.3px;top:319.0px;color:#786868;letter-spacing:-0.8px'>100</div>
<div class='a' style='left:0px;top:331.9px;width:1213px;height:13.6px;background:#f5f5f5;'></div>
<svg style='left:84px;top:336.5px' width='11' height='5' viewBox='0 0 11 5'><rect x='0.5' y='0.5' width='10' height='4' fill='#fff' stroke='#d2cee2'/></svg>
<div class='t' style='left:100px;top:332.6px;color:#a8a8a8'>Branch/Decision Coverage</div>
<svg style='left:84px;top:350.1px' width='11' height='5' viewBox='0 0 11 5'><rect x='0.5' y='0.5' width='10' height='4' fill='#fff' stroke='#d2cee2'/></svg>
<div class='t' style='left:100px;top:346.2px;color:#a8a8a8;letter-spacing:-0.12px'>Modified Condition / Decision Coverage</div>
<div class='a' style='left:0px;top:359.1px;width:1213px;height:13.6px;background:#f5f5f5;'></div>
<svg style='left:36px;top:362.7px' width='8' height='5' viewBox='0 0 8 5'><path d='M0.7 0.7L3.7 3.7L6.7 0.7' fill='none' stroke='#3a3a3a' stroke-width='1.45'/></svg>
<svg style='left:50.2px;top:361.4px' width='9' height='10' viewBox='0 0 9 10'><path d='M0 3.3L3.6 0L7 4.2L3.9 9L0 5.5Z' fill='#0636a6'/><path d='M0.7 3.1L3.6 0.3L7 4.2L4.9 6.9Z' fill='#86bcf2'/><path d='M3.6 0.3L7 4.2L5.8 5.6L2.6 1.9Z' fill='#5e9ae6' opacity='0.6'/></svg>
<div class='t' style='left:61.6px;top:359.8px;'>Tester_parse</div>
<svg style='left:52px;top:376.3px' width='8' height='5' viewBox='0 0 8 5'><path d='M0.7 0.7L3.7 3.7L6.7 0.7' fill='none' stroke='#3a3a3a' stroke-width='1.45'/></svg>
<div class='a' style='left:64px;top:372.7px;width:445px;height:13.6px;background:#f9e3b0;'></div>
<svg style='left:68px;top:376.9px' width='10' height='4' viewBox='0 0 10 4'><rect x='0' y='0' width='10' height='2' fill='#4aa84a'/><rect x='0' y='2.7' width='6' height='2' fill='#d06070'/></svg>
<div class='t' style='left:84px;top:373.4px;'>Combined Coverage Run</div>
<div class='t' style='left:453.5px;top:373.4px;'>Failed</div>
<div class='a' style='left:0px;top:386.3px;width:1213px;height:13.6px;background:#f5f5f5;'></div>
<div class='a' style='left:80px;top:386.3px;width:371px;height:13.6px;background:#fde4e4;'></div>
<svg style='left:84px;top:390.9px' width='10.5' height='4.5' viewBox='0 0 10.5 4.5'><rect width='10.5' height='4.5' fill='#fff'/><rect width='6.3' height='4.5' fill='#e07585'/></svg>
<div class='t' style='left:100px;top:387.0px;color:#000'>Statement Coverage</div>
<div class='t' style='left:453.6px;top:387.0px;color:#8a4a9a;letter-spacing:-0.55px'>57</div>
<div class='t' style='left:511.2px;top:387.0px;color:#2e8a2e;letter-spacing:-0.55px'><span style='font-size:9px;letter-spacing:0;margin-right:1.4px'>+</span>&nbsp;57</div>
<div class='t' style='left:604.3px;top:387.0px;color:#786868;letter-spacing:-0.8px'>100</div>
<div class='a' style='left:80px;top:399.9px;width:371px;height:13.6px;background:#fde4e4;'></div>
<svg style='left:84px;top:404.5px' width='10.5' height='4.5' viewBox='0 0 10.5 4.5'><rect width='10.5' height='4.5' fill='#fff'/><rect width='5.0' height='4.5' fill='#e07585'/></svg>
<div class='t' style='left:100px;top:400.6px;color:#000'>Branch/Decision Coverage</div>
<div class='t' style='left:453.6px;top:400.6px;color:#8a4a9a;letter-spacing:-0.55px'>44</div>
<div class='t' style='left:511.2px;top:400.6px;color:#2e8a2e;letter-spacing:-0.55px'><span style='font-size:9px;letter-spacing:0;margin-right:1.4px'>+</span>&nbsp;44</div>
<div class='t' style='left:604.3px;top:400.6px;color:#786868;letter-spacing:-0.8px'>100</div>
<div class='a' style='left:0px;top:413.5px;width:1213px;height:13.6px;background:#f5f5f5;'></div>
<svg style='left:84px;top:418.1px' width='10.5' height='4.5' viewBox='0 0 10.5 4.5'><rect width='10.5' height='4.5' fill='#4cbc4c'/></svg>
<div class='t' style='left:100px;top:414.2px;color:#3f9f3f;letter-spacing:-0.12px'>Modified Condition / Decision Coverage</div>
<div class='t' style='left:453.6px;top:414.2px;color:#3f9f3f;letter-spacing:-0.55px'>100</div>
<div class='t' style='left:511.2px;top:414.2px;color:#2e8a2e;letter-spacing:-0.55px'><span style='font-size:9px;letter-spacing:0;margin-right:1.4px'>+</span>&nbsp;100</div>
<div class='t' style='left:604.3px;top:414.2px;color:#786868;letter-spacing:-0.8px'>100</div>
<svg style='left:36px;top:430.7px' width='8' height='5' viewBox='0 0 8 5'><path d='M0.7 0.7L3.7 3.7L6.7 0.7' fill='none' stroke='#3a3a3a' stroke-width='1.45'/></svg>
<svg style='left:50.8px;top:429.0px' width='9' height='10' viewBox='0 0 9 10'><path d='M0 3.3L3.6 0L7 4.2L3.9 9L0 5.5Z' fill='#6a8cd4'/><path d='M0.7 3.1L3.6 0.3L7 4.2L4.9 6.9Z' fill='#c6def8'/><circle cx='6.3' cy='7.8' r='2.05' fill='#78e02a'/></svg>
<div class='t' style='left:64px;top:427.8px;'>Tester_print</div>
<div class='a' style='left:0px;top:440.7px;width:1213px;height:13.6px;background:#f5f5f5;'></div>
<svg style='left:52px;top:444.3px' width='8' height='5' viewBox='0 0 8 5'><path d='M0.7 0.7L3.7 3.7L6.7 0.7' fill='none' stroke='#3a3a3a' stroke-width='1.45'/></svg>
<div class='a' style='left:64px;top:440.7px;width:445px;height:13.6px;background:#d5f5c5;'></div>
<svg style='left:68px;top:444.9px' width='10' height='4' viewBox='0 0 10 4'><rect x='0' y='0' width='10' height='2' fill='#4aa84a'/><rect x='0' y='2.7' width='6' height='2' fill='#d06070'/></svg>
<div class='t' style='left:84px;top:441.4px;'>Combined Coverage Run</div>
<div class='t' style='left:453.5px;top:441.4px;'>Passed</div>
<svg style='left:84px;top:458.9px' width='10.5' height='4.5' viewBox='0 0 10.5 4.5'><rect width='10.5' height='4.5' fill='#4cbc4c'/></svg>
<div class='t' style='left:100px;top:455.0px;color:#3f9f3f'>Statement Coverage</div>
<div class='t' style='left:453.6px;top:455.0px;color:#3f9f3f;letter-spacing:-0.55px'>100</div>
<div class='t' style='left:511.2px;top:455.0px;color:#2e8a2e;letter-spacing:-0.55px'><span style='font-size:9px;letter-spacing:0;margin-right:1.4px'>+</span>&nbsp;100</div>
<div class='t' style='left:604.3px;top:455.0px;color:#786868;letter-spacing:-0.8px'>100</div>
<div class='a' style='left:0px;top:467.9px;width:1213px;height:13.6px;background:#f5f5f5;'></div>
<svg style='left:84px;top:472.5px' width='11' height='5' viewBox='0 0 11 5'><rect x='0.5' y='0.5' width='10' height='4' fill='#fff' stroke='#d2cee2'/></svg>
<div class='t' style='left:100px;top:468.6px;color:#a8a8a8'>Branch/Decision Coverage</div>
<svg style='left:84px;top:486.1px' width='11' height='5' viewBox='0 0 11 5'><rect x='0.5' y='0.5' width='10' height='4' fill='#fff' stroke='#d2cee2'/></svg>
<div class='t' style='left:100px;top:482.2px;color:#a8a8a8;letter-spacing:-0.12px'>Modified Condition / Decision Coverage</div>
<div class='a' style='left:0px;top:495.1px;width:1213px;height:13.6px;background:#f5f5f5;'></div>
<svg style='left:36px;top:498.7px' width='8' height='5' viewBox='0 0 8 5'><path d='M0.7 0.7L3.7 3.7L6.7 0.7' fill='none' stroke='#3a3a3a' stroke-width='1.45'/></svg>
<svg style='left:50.8px;top:497.0px' width='9' height='10' viewBox='0 0 9 10'><path d='M0 3.3L3.6 0L7 4.2L3.9 9L0 5.5Z' fill='#6a8cd4'/><path d='M0.7 3.1L3.6 0.3L7 4.2L4.9 6.9Z' fill='#c6def8'/><circle cx='6.3' cy='7.8' r='2.05' fill='#78e02a'/></svg>
<div class='t' style='left:64px;top:495.8px;'>Tester_show</div>
<svg style='left:52px;top:512.3px' width='8' height='5' viewBox='0 0 8 5'><path d='M0.7 0.7L3.7 3.7L6.7 0.7' fill='none' stroke='#3a3a3a' stroke-width='1.45'/></svg>
<div class='a' style='left:64px;top:508.7px;width:445px;height:13.6px;background:#d5f5c5;'></div>
<svg style='left:68px;top:512.9px' width='10' height='4' viewBox='0 0 10 4'><rect x='0' y='0' width='10' height='2' fill='#4aa84a'/><rect x='0' y='2.7' width='6' height='2' fill='#d06070'/></svg>
<div class='t' style='left:84px;top:509.4px;'>Combined Coverage Run</div>
<div class='t' style='left:453.5px;top:509.4px;'>Passed</div>
<div class='a' style='left:0px;top:522.3px;width:1213px;height:13.6px;background:#f5f5f5;'></div>
<svg style='left:84px;top:526.9px' width='10.5' height='4.5' viewBox='0 0 10.5 4.5'><rect width='10.5' height='4.5' fill='#4cbc4c'/></svg>
<div class='t' style='left:100px;top:523.0px;color:#3f9f3f'>Statement Coverage</div>
<div class='t' style='left:453.6px;top:523.0px;color:#3f9f3f;letter-spacing:-0.55px'>100</div>
<div class='t' style='left:511.2px;top:523.0px;color:#2e8a2e;letter-spacing:-0.55px'><span style='font-size:9px;letter-spacing:0;margin-right:1.4px'>+</span>&nbsp;100</div>
<div class='t' style='left:604.3px;top:523.0px;color:#786868;letter-spacing:-0.8px'>100</div>
<svg style='left:84px;top:540.5px' width='11' height='5' viewBox='0 0 11 5'><rect x='0.5' y='0.5' width='10' height='4' fill='#fff' stroke='#d2cee2'/></svg>
<div class='t' style='left:100px;top:536.6px;color:#a8a8a8'>Branch/Decision Coverage</div>
<div class='a' style='left:0px;top:549.5px;width:1213px;height:13.6px;background:#f5f5f5;'></div>
<svg style='left:84px;top:554.1px' width='11' height='5' viewBox='0 0 11 5'><rect x='0.5' y='0.5' width='10' height='4' fill='#fff' stroke='#d2cee2'/></svg>
<div class='t' style='left:100px;top:550.2px;color:#a8a8a8;letter-spacing:-0.12px'>Modified Condition / Decision Coverage</div>
<svg style='left:20px;top:566.7px' width='8' height='5' viewBox='0 0 8 5'><path d='M0.7 0.7L3.7 3.7L6.7 0.7' fill='none' stroke='#3a3a3a' stroke-width='1.45'/></svg>
<svg style='left:34px;top:564.9px' width='9' height='11' viewBox='0 0 9 11'><defs><linearGradient id='fgr' x1='0' y1='0' x2='1' y2='1'><stop offset='0' stop-color='#ffffff'/><stop offset='1' stop-color='#d4e0f4'/></linearGradient></defs><path d='M0.5 0.5H6L8.5 3V10.5H0.5Z' fill='url(#fgr)' stroke='#7888a8' stroke-width='0.9'/><path d='M6 0.5V3H8.5Z' fill='#5a6a98'/></svg>
<div class='t' style='left:47.4px;top:563.8px;'>Specialoffer.c</div>
<div class='a' style='left:0px;top:576.7px;width:1213px;height:13.6px;background:#f5f5f5;'></div>
<svg style='left:36px;top:580.3px' width='8' height='5' viewBox='0 0 8 5'><path d='M0.7 0.7L3.7 3.7L6.7 0.7' fill='none' stroke='#3a3a3a' stroke-width='1.45'/></svg>
<div class='a' style='left:48px;top:576.7px;width:461px;height:13.6px;background:#fcbdbd;'></div>
<svg style='left:52px;top:580.9px' width='10' height='4' viewBox='0 0 10 4'><rect x='0' y='0' width='10' height='2' fill='#4aa84a'/><rect x='0' y='2.7' width='6' height='2' fill='#d06070'/></svg>
<div class='t' style='left:68px;top:577.4px;'>Combined Coverage Run</div>
<div class='t' style='left:453.5px;top:577.4px;'>Failed</div>
<div class='a' style='left:64px;top:590.3px;width:387px;height:13.6px;background:#fde4e4;'></div>
<svg style='left:68px;top:594.9px' width='10.5' height='4.5' viewBox='0 0 10.5 4.5'><rect width='10.5' height='4.5' fill='#fff'/><rect width='4.6' height='4.5' fill='#e07585'/></svg>
<div class='t' style='left:84px;top:591.0px;color:#000'>Statement Coverage</div>
<div class='t' style='left:453.6px;top:591.0px;color:#8a4a9a;letter-spacing:-0.55px'>40</div>
<div class='t' style='left:511.2px;top:591.0px;color:#2e8a2e;letter-spacing:-0.55px'><span style='font-size:9px;letter-spacing:0;margin-right:1.4px'>+</span>&nbsp;40</div>
<div class='t' style='left:604.3px;top:591.0px;color:#786868;letter-spacing:-0.8px'>100</div>
<div class='a' style='left:0px;top:603.9px;width:1213px;height:13.6px;background:#f5f5f5;'></div>
<div class='a' style='left:64px;top:603.9px;width:387px;height:13.6px;background:#fde4e4;'></div>
<svg style='left:68px;top:608.5px' width='10.5' height='4.5' viewBox='0 0 10.5 4.5'><rect width='10.5' height='4.5' fill='#fff'/><rect width='3.1' height='4.5' fill='#e07585'/></svg>
<div class='t' style='left:84px;top:604.6px;color:#000'>Branch/Decision Coverage</div>
<div class='t' style='left:453.6px;top:604.6px;color:#8a4a9a;letter-spacing:-0.55px'>25</div>
<div class='t' style='left:511.2px;top:604.6px;color:#2e8a2e;letter-spacing:-0.55px'><span style='font-size:9px;letter-spacing:0;margin-right:1.4px'>+</span>&nbsp;25</div>
<div class='t' style='left:604.3px;top:604.6px;color:#786868;letter-spacing:-0.8px'>100</div>
<svg style='left:68px;top:622.1px' width='11' height='5' viewBox='0 0 11 5'><rect x='0.5' y='0.5' width='10' height='4' fill='#fff' stroke='#d2cee2'/></svg>
<div class='t' style='left:84px;top:618.2px;color:#a8a8a8;letter-spacing:-0.12px'>Modified Condition / Decision Coverage</div>
<div class='a' style='left:0px;top:631.1px;width:1213px;height:13.6px;background:#f5f5f5;'></div>
<svg style='left:36px;top:634.7px' width='8' height='5' viewBox='0 0 8 5'><path d='M0.7 0.7L3.7 3.7L6.7 0.7' fill='none' stroke='#3a3a3a' stroke-width='1.45'/></svg>
<svg style='left:50.2px;top:633.4px' width='9' height='10' viewBox='0 0 9 10'><path d='M0 3.3L3.6 0L7 4.2L3.9 9L0 5.5Z' fill='#0636a6'/><path d='M0.7 3.1L3.6 0.3L7 4.2L4.9 6.9Z' fill='#86bcf2'/><path d='M3.6 0.3L7 4.2L5.8 5.6L2.6 1.9Z' fill='#5e9ae6' opacity='0.6'/></svg>
<div class='t' style='left:61.6px;top:631.8px;'>Specialoffer_getPrice</div>
<svg style='left:52px;top:648.3px' width='8' height='5' viewBox='0 0 8 5'><path d='M0.7 0.7L3.7 3.7L6.7 0.7' fill='none' stroke='#3a3a3a' stroke-width='1.45'/></svg>
<div class='a' style='left:64px;top:644.7px;width:445px;height:13.6px;background:#fcbdbd;'></div>
<svg style='left:68px;top:648.9px' width='10' height='4' viewBox='0 0 10 4'><rect x='0' y='0' width='10' height='2' fill='#4aa84a'/><rect x='0' y='2.7' width='6' height='2' fill='#d06070'/></svg>
<div class='t' style='left:84px;top:645.4px;'>Combined Coverage Run</div>
<div class='t' style='left:453.5px;top:645.4px;'>Failed</div>
<div class='a' style='left:0px;top:658.3px;width:1213px;height:13.6px;background:#f5f5f5;'></div>
<div class='a' style='left:80px;top:658.3px;width:371px;height:13.6px;background:#fde4e4;'></div>
<svg style='left:84px;top:662.9px' width='10.5' height='4.5' viewBox='0 0 10.5 4.5'><rect width='10.5' height='4.5' fill='#fff'/><rect width='4.6' height='4.5' fill='#e07585'/></svg>
<div class='t' style='left:100px;top:659.0px;color:#000'>Statement Coverage</div>
<div class='t' style='left:453.6px;top:659.0px;color:#8a4a9a;letter-spacing:-0.55px'>40</div>
<div class='t' style='left:511.2px;top:659.0px;color:#2e8a2e;letter-spacing:-0.55px'><span style='font-size:9px;letter-spacing:0;margin-right:1.4px'>+</span>&nbsp;40</div>
<div class='t' style='left:604.3px;top:659.0px;color:#786868;letter-spacing:-0.8px'>100</div>
<div class='a' style='left:80px;top:671.9px;width:371px;height:13.6px;background:#fde4e4;'></div>
<svg style='left:84px;top:676.5px' width='10.5' height='4.5' viewBox='0 0 10.5 4.5'><rect width='10.5' height='4.5' fill='#fff'/><rect width='3.1' height='4.5' fill='#e07585'/></svg>
<div class='t' style='left:100px;top:672.6px;color:#000'>Branch/Decision Coverage</div>
<div class='t' style='left:453.6px;top:672.6px;color:#8a4a9a;letter-spacing:-0.55px'>25</div>
<div class='t' style='left:511.2px;top:672.6px;color:#2e8a2e;letter-spacing:-0.55px'><span style='font-size:9px;letter-spacing:0;margin-right:1.4px'>+</span>&nbsp;25</div>
<div class='t' style='left:604.3px;top:672.6px;color:#786868;letter-spacing:-0.8px'>100</div>
</div>
<div class='a' style='left:1519px;top:101px;width:12.6px;height:678px;background:#f0f0f0;'></div>
<div class='a' style='left:1519.3px;top:114.2px;width:11.6px;height:202px;background:#cdcdcd;'></div>
<svg style='left:1521.8px;top:106px' width='7' height='4' viewBox='0 0 7 4'><path d='M0.6 3.6L3.5 0.8L6.4 3.6' fill='none' stroke='#606060' stroke-width='1.2'/></svg>
<svg style='left:1521.8px;top:770.8px' width='7' height='4' viewBox='0 0 7 4'><path d='M0.6 0.4L3.5 3.2L6.4 0.4' fill='none' stroke='#606060' stroke-width='1.2'/></svg>
<div class='a' style='left:304px;top:785px;width:1229px;height:1.2px;background:#c8c8c8;'></div>
<div class='a' style='left:713.5px;top:793px;width:24px;height:11.5px;background:#d5f5c5;'></div>
<div class='t' style='left:742px;top:792.8px;font-size:9px;letter-spacing:-0.3px;-webkit-text-stroke:0.1px currentColor'>Pass</div>
<div class='a' style='left:765px;top:793px;width:24px;height:11.5px;background:#f5e87c;'></div>
<div class='t' style='left:794.2px;top:792.8px;font-size:9px;letter-spacing:-0.3px;-webkit-text-stroke:0.1px currentColor'>&gt; 1 Metric Passed</div>
<div class='a' style='left:867px;top:793px;width:24px;height:11.5px;background:#f9e3b0;'></div>
<div class='t' style='left:896px;top:792.8px;font-size:9px;letter-spacing:-0.3px;-webkit-text-stroke:0.1px currentColor'>1 Metric Passed</div>
<div class='a' style='left:960.8px;top:793px;width:24px;height:11.5px;background:#fcbcbc;'></div>
<div class='t' style='left:989px;top:792.8px;font-size:9px;letter-spacing:-0.3px;-webkit-text-stroke:0.1px currentColor'>Fail</div>
<div class='a' style='left:1006.4px;top:793px;width:24px;height:11.5px;background:#fde4e4;'></div>
<div class='t' style='left:1034.7px;top:792.8px;font-size:9px;letter-spacing:-0.3px;-webkit-text-stroke:0.1px currentColor'>Fail (Unexecuted)</div>
<svg style='left:1511px;top:793.2px' width='11' height='11' viewBox='0 0 11 11'><rect x='0.5' y='0.5' width='10' height='10' rx='2' fill='#ef8a5f' stroke='#e0583a'/><path d='M3 3L8 8M8 3L3 8' stroke='#fff' stroke-width='1.6'/></svg>
</body></html>
